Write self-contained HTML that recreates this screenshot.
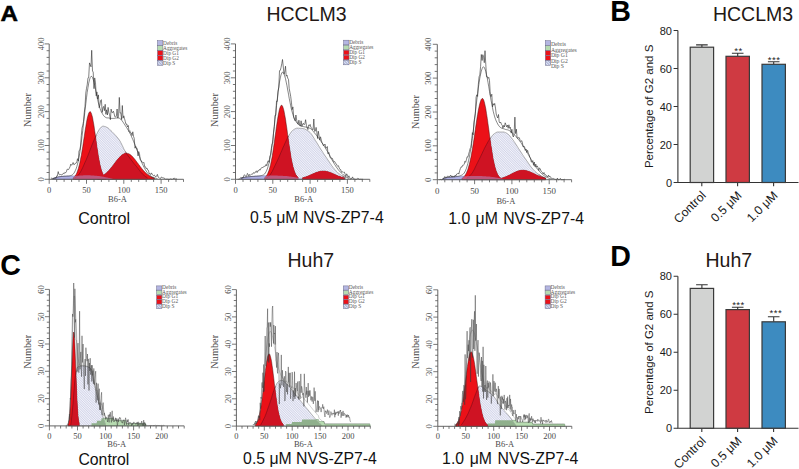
<!DOCTYPE html>
<html><head><meta charset="utf-8"><style>
html,body{margin:0;padding:0;background:#fff;}
body{width:799px;height:469px;overflow:hidden;position:relative;}
svg{position:absolute;left:0;top:0;}
.tk{font-family:"Liberation Serif",serif;font-size:8.5px;fill:#4a4a4a;}
.nm{font-family:"Liberation Serif",serif;font-size:10.3px;fill:#4a4a4a;}
.lg{font-family:"Liberation Serif",serif;font-size:5.3px;fill:#555;}
.bt{font-family:"Liberation Sans",sans-serif;font-size:11px;fill:#1a1a1a;}
.bl{font-family:"Liberation Sans",sans-serif;font-size:12.2px;fill:#1a1a1a;}
.yl{font-family:"Liberation Sans",sans-serif;font-size:11.5px;fill:#1a1a1a;}
.st{font-family:"Liberation Sans",sans-serif;font-size:9.6px;letter-spacing:0.5px;fill:#1a1a1a;}
.ti{font-family:"Liberation Sans",sans-serif;font-size:19.5px;fill:#231815;}
.cl{font-family:"Liberation Sans",sans-serif;font-size:15.8px;fill:#111;}
.pl{font-family:"Liberation Sans",sans-serif;font-size:29.8px;font-weight:bold;fill:#000;}
</style></head><body>
<svg width="799" height="469" viewBox="0 0 799 469">
<defs>
<pattern id="hatch" patternUnits="userSpaceOnUse" width="1.7" height="1.7" patternTransform="rotate(-45)">
<rect width="1.7" height="1.7" fill="#f6f7fc"/><line x1="0" y1="0" x2="1.7" y2="0" stroke="#dcdff0" stroke-width="0.5"/><line x1="0" y1="0" x2="0" y2="1.7" stroke="#9ca2cc" stroke-width="0.65"/></pattern>
<pattern id="hatchL" patternUnits="userSpaceOnUse" width="2" height="2" patternTransform="rotate(-45)">
<rect width="2" height="2" fill="#e0e4f4"/><line x1="0" y1="0" x2="0" y2="2" stroke="#4a5aa0" stroke-width="0.8"/></pattern>
</defs>
<path d="M52.9 178.6 L53.7 178.2 L54.4 177.9 L55.2 177.7 L55.9 177.5 L56.7 177.3 L57.4 177.1 L58.2 176.9 L58.9 176.8 L59.6 176.7 L60.4 176.6 L61.1 176.5 L61.9 176.4 L62.6 176.4 L63.4 176.3 L64.1 176.3 L64.9 176.2 L65.6 176.2 L66.4 176.2 L67.1 176.1 L67.8 176.1 L68.6 176.1 L69.3 176.1 L70.1 176.1 L70.8 176 L71.6 176 L72.3 176 L73.1 176 L73.8 176 L74.6 175.9 L75.3 175.9 L76.1 175.9 L76.8 175.8 L77.5 175.8 L78.3 175.7 L79 175.7 L79.8 175.6 L80.5 175.6 L81.3 175.5 L82 175.4 L82.8 175.4 L83.5 175.3 L84.3 175.3 L85 175.3 L85.8 175.2 L86.5 175.2 L87.2 175.2 L88 175.3 L88.7 175.3 L89.5 175.3 L90.2 175.3 L91 175.4 L91.7 175.4 L92.5 175.5 L93.2 175.5 L94 175.6 L94.7 175.7 L95.5 175.7 L96.2 175.8 L96.9 175.8 L97.7 175.9 L98.4 176 L99.2 176.1 L99.9 176.2 L100.7 176.3 L101.4 176.4 L102.2 176.6 L102.9 176.7 L103.7 176.8 L104.4 177 L105.2 177.2 L105.9 177.3 L106.6 177.5 L107.4 177.6 L108.1 177.8 L108.9 177.9 L109.6 178.1 L110.4 178.2 L111.1 178.4 L111.9 178.6 L112.6 178.8 L112.6 179.3 L111.9 179.3 L111.1 179.3 L110.4 179.3 L109.6 179.3 L108.9 179.3 L108.1 179.3 L107.4 179.3 L106.6 179.3 L105.9 179.3 L105.2 179.3 L104.4 179.3 L103.7 179.3 L102.9 179.3 L102.2 179.3 L101.4 179.3 L100.7 179.3 L99.9 179.3 L99.2 179.3 L98.4 179.3 L97.7 179.3 L96.9 179.3 L96.2 179.3 L95.5 179.3 L94.7 179.3 L94 179.3 L93.2 179.3 L92.5 179.3 L91.7 179.3 L91 179.3 L90.2 179.3 L89.5 179.3 L88.7 179.3 L88 179.3 L87.2 179.3 L86.5 179.3 L85.8 179.3 L85 179.3 L84.3 179.3 L83.5 179.3 L82.8 179.3 L82 179.3 L81.3 179.3 L80.5 179.3 L79.8 179.3 L79 179.3 L78.3 179.3 L77.5 179.3 L76.8 179.3 L76.1 179.3 L75.3 179.3 L74.6 179.3 L73.8 179.3 L73.1 179.3 L72.3 179.3 L71.6 179.3 L70.8 179.3 L70.1 179.3 L69.3 179.3 L68.6 179.3 L67.8 179.3 L67.1 179.3 L66.4 179.3 L65.6 179.3 L64.9 179.3 L64.1 179.3 L63.4 179.3 L62.6 179.3 L61.9 179.3 L61.1 179.3 L60.4 179.3 L59.6 179.3 L58.9 179.3 L58.2 179.3 L57.4 179.3 L56.7 179.3 L55.9 179.3 L55.2 179.3 L54.4 179.3 L53.7 179.3 L52.9 179.3Z" fill="#b4b6e2" stroke="#5a5a9a" stroke-width="0.4"/>
<path d="M75.3 177.7 L76.1 177.1 L76.8 176.5 L77.5 175.9 L78.3 175.2 L79 174.2 L79.8 173.1 L80.5 171.9 L81.3 170.5 L82 169 L82.8 167.4 L83.5 165.7 L84.3 164 L85 162.3 L85.8 160.7 L86.5 159 L87.2 157.3 L88 155.4 L88.7 153.5 L89.5 151.5 L90.2 149.5 L91 147.5 L91.7 145.6 L92.5 143.8 L93.2 142 L94 140.2 L94.7 138.5 L95.5 136.9 L96.2 135.3 L96.9 133.8 L97.7 132.2 L98.4 130.8 L99.2 129.5 L99.9 128.5 L100.7 127.7 L101.4 126.9 L102.2 126.4 L102.9 126.2 L103.7 126.2 L104.4 126.4 L105.2 126.6 L105.9 126.9 L106.6 127.2 L107.4 127.5 L108.1 128 L108.9 128.6 L109.6 129.3 L110.4 130.1 L111.1 130.9 L111.9 131.6 L112.6 132.3 L113.4 133.1 L114.1 133.8 L114.8 134.6 L115.6 135.4 L116.3 136.2 L117.1 137.1 L117.8 138 L118.6 139 L119.3 140 L120.1 141.2 L120.8 142.6 L121.6 144.1 L122.3 145.6 L123.1 147.2 L123.8 148.8 L124.5 150.2 L125.3 151.5 L126 152.7 L126.8 153.9 L127.5 155 L128.3 156 L129 157 L129.8 158 L130.5 159 L131.3 160 L132 161 L132.8 161.9 L133.5 162.9 L134.2 163.8 L135 164.7 L135.7 165.6 L136.5 166.5 L137.2 167.4 L138 168.4 L138.7 169.4 L139.5 170.4 L140.2 171.4 L141 172.3 L141.7 173.1 L142.4 173.9 L143.2 174.6 L143.9 175.2 L144.7 175.9 L145.4 176.5 L146.2 177 L146.9 177.5 L146.9 179.3 L146.2 179.3 L145.4 179.3 L144.7 179.3 L143.9 179.3 L143.2 179.3 L142.4 179.3 L141.7 179.3 L141 179.3 L140.2 179.3 L139.5 179.3 L138.7 179.3 L138 179.3 L137.2 179.3 L136.5 179.3 L135.7 179.3 L135 179.3 L134.2 179.3 L133.5 179.3 L132.8 179.3 L132 179.3 L131.3 179.3 L130.5 179.3 L129.8 179.3 L129 179.3 L128.3 179.3 L127.5 179.3 L126.8 179.3 L126 179.3 L125.3 179.3 L124.5 179.3 L123.8 179.3 L123.1 179.3 L122.3 179.3 L121.6 179.3 L120.8 179.3 L120.1 179.3 L119.3 179.3 L118.6 179.3 L117.8 179.3 L117.1 179.3 L116.3 179.3 L115.6 179.3 L114.8 179.3 L114.1 179.3 L113.4 179.3 L112.6 179.3 L111.9 179.3 L111.1 179.3 L110.4 179.3 L109.6 179.3 L108.9 179.3 L108.1 179.3 L107.4 179.3 L106.6 179.3 L105.9 179.3 L105.2 179.3 L104.4 179.3 L103.7 179.3 L102.9 179.3 L102.2 179.3 L101.4 179.3 L100.7 179.3 L99.9 179.3 L99.2 179.3 L98.4 179.3 L97.7 179.3 L96.9 179.3 L96.2 179.3 L95.5 179.3 L94.7 179.3 L94 179.3 L93.2 179.3 L92.5 179.3 L91.7 179.3 L91 179.3 L90.2 179.3 L89.5 179.3 L88.7 179.3 L88 179.3 L87.2 179.3 L86.5 179.3 L85.8 179.3 L85 179.3 L84.3 179.3 L83.5 179.3 L82.8 179.3 L82 179.3 L81.3 179.3 L80.5 179.3 L79.8 179.3 L79 179.3 L78.3 179.3 L77.5 179.3 L76.8 179.3 L76.1 179.3 L75.3 179.3Z" fill="url(#hatch)" stroke="#666" stroke-width="0.5"/>
<path d="M73.1 177.9 L73.8 177.3 L74.6 176.6 L75.3 175.6 L76.1 174.4 L76.8 172.9 L77.5 171 L78.3 168.7 L79 166 L79.8 162.9 L80.5 159.3 L81.3 155.3 L82 150.9 L82.8 146.2 L83.5 141.2 L84.3 136.2 L85 131.3 L85.8 126.6 L86.5 122.3 L87.2 118.5 L88 115.4 L88.7 113.2 L89.5 111.9 L90.2 111.6 L91 112.4 L91.7 114.4 L92.5 117.3 L93.2 121.2 L94 125.7 L94.7 130.8 L95.5 136.1 L96.2 141.5 L96.9 146.8 L97.7 151.8 L98.4 156.4 L99.2 160.6 L99.9 164.3 L100.7 167.5 L101.4 170.1 L102.2 172.3 L102.9 174.1 L103.7 175.5 L104.4 176.5 L105.2 177.3 L105.9 177.9 L105.9 179.3 L105.2 179.3 L104.4 179.3 L103.7 179.3 L102.9 179.3 L102.2 179.3 L101.4 179.3 L100.7 179.3 L99.9 179.3 L99.2 179.3 L98.4 179.3 L97.7 179.3 L96.9 179.3 L96.2 179.3 L95.5 179.3 L94.7 179.3 L94 179.3 L93.2 179.3 L92.5 179.3 L91.7 179.3 L91 179.3 L90.2 179.3 L89.5 179.3 L88.7 179.3 L88 179.3 L87.2 179.3 L86.5 179.3 L85.8 179.3 L85 179.3 L84.3 179.3 L83.5 179.3 L82.8 179.3 L82 179.3 L81.3 179.3 L80.5 179.3 L79.8 179.3 L79 179.3 L78.3 179.3 L77.5 179.3 L76.8 179.3 L76.1 179.3 L75.3 179.3 L74.6 179.3 L73.8 179.3 L73.1 179.3Z" fill="#ec1118" stroke="#3a0a0a" stroke-width="0.45"/>
<path d="M97.7 177.9 L98.4 177.6 L99.2 177.4 L99.9 177.1 L100.7 176.8 L101.4 176.4 L102.2 176 L102.9 175.5 L103.7 175.1 L104.4 174.5 L105.2 174 L105.9 173.3 L106.6 172.7 L107.4 172 L108.1 171.2 L108.9 170.4 L109.6 169.6 L110.4 168.7 L111.1 167.8 L111.9 166.9 L112.6 165.9 L113.4 165 L114.1 164 L114.8 163 L115.6 162 L116.3 161 L117.1 160.1 L117.8 159.2 L118.6 158.3 L119.3 157.4 L120.1 156.7 L120.8 155.9 L121.6 155.3 L122.3 154.7 L123.1 154.2 L123.8 153.9 L124.5 153.6 L125.3 153.3 L126 153.2 L126.8 153.2 L127.5 153.4 L128.3 153.6 L129 153.9 L129.8 154.3 L130.5 154.8 L131.3 155.4 L132 156.1 L132.8 156.9 L133.5 157.7 L134.2 158.6 L135 159.5 L135.7 160.5 L136.5 161.5 L137.2 162.5 L138 163.5 L138.7 164.5 L139.5 165.5 L140.2 166.5 L141 167.5 L141.7 168.4 L142.4 169.3 L143.2 170.2 L143.9 171 L144.7 171.8 L145.4 172.6 L146.2 173.3 L146.9 173.9 L147.7 174.5 L148.4 175 L149.2 175.5 L149.9 176 L150.7 176.4 L151.4 176.8 L152.1 177.1 L152.9 177.4 L153.6 177.7 L154.4 177.9 L154.4 179.3 L153.6 179.3 L152.9 179.3 L152.1 179.3 L151.4 179.3 L150.7 179.3 L149.9 179.3 L149.2 179.3 L148.4 179.3 L147.7 179.3 L146.9 179.3 L146.2 179.3 L145.4 179.3 L144.7 179.3 L143.9 179.3 L143.2 179.3 L142.4 179.3 L141.7 179.3 L141 179.3 L140.2 179.3 L139.5 179.3 L138.7 179.3 L138 179.3 L137.2 179.3 L136.5 179.3 L135.7 179.3 L135 179.3 L134.2 179.3 L133.5 179.3 L132.8 179.3 L132 179.3 L131.3 179.3 L130.5 179.3 L129.8 179.3 L129 179.3 L128.3 179.3 L127.5 179.3 L126.8 179.3 L126 179.3 L125.3 179.3 L124.5 179.3 L123.8 179.3 L123.1 179.3 L122.3 179.3 L121.6 179.3 L120.8 179.3 L120.1 179.3 L119.3 179.3 L118.6 179.3 L117.8 179.3 L117.1 179.3 L116.3 179.3 L115.6 179.3 L114.8 179.3 L114.1 179.3 L113.4 179.3 L112.6 179.3 L111.9 179.3 L111.1 179.3 L110.4 179.3 L109.6 179.3 L108.9 179.3 L108.1 179.3 L107.4 179.3 L106.6 179.3 L105.9 179.3 L105.2 179.3 L104.4 179.3 L103.7 179.3 L102.9 179.3 L102.2 179.3 L101.4 179.3 L100.7 179.3 L99.9 179.3 L99.2 179.3 L98.4 179.3 L97.7 179.3Z" fill="#ec1118" stroke="#3a0a0a" stroke-width="0.45"/>
<path d="M75.3 177.7 L76.1 177.1 L76.8 176.5 L77.5 175.9 L78.3 175.2 L79 174.2 L79.8 173.1 L80.5 171.9 L81.3 170.5 L82 169 L82.8 167.4 L83.5 165.7 L84.3 164 L85 162.3 L85.8 160.7 L86.5 159 L87.2 157.3 L88 155.4 L88.7 153.5 L89.5 151.5 L90.2 149.5 L91 147.5 L91.7 145.6 L92.5 143.8 L93.2 142 L94 140.2 L94.7 138.5 L95.5 136.9 L96.2 141.5 L96.9 146.8 L97.7 151.8 L98.4 156.4 L99.2 160.6 L99.9 164.3 L100.7 167.5 L101.4 170.1 L102.2 172.3 L102.9 174.1 L103.7 175.1 L104.4 174.5 L105.2 174 L105.9 173.3 L106.6 172.7 L107.4 172 L108.1 171.2 L108.9 170.4 L109.6 169.6 L110.4 168.7 L111.1 167.8 L111.9 166.9 L112.6 165.9 L113.4 165 L114.1 164 L114.8 163 L115.6 162 L116.3 161 L117.1 160.1 L117.8 159.2 L118.6 158.3 L119.3 157.4 L120.1 156.7 L120.8 155.9 L121.6 155.3 L122.3 154.7 L123.1 154.2 L123.8 153.9 L124.5 153.6 L125.3 153.3 L126 153.2 L126.8 153.9 L127.5 155 L128.3 156 L129 157 L129.8 158 L130.5 159 L131.3 160 L132 161 L132.8 161.9 L133.5 162.9 L134.2 163.8 L135 164.7 L135.7 165.6 L136.5 166.5 L137.2 167.4 L138 168.4 L138.7 169.4 L139.5 170.4 L140.2 171.4 L141 172.3 L141.7 173.1 L142.4 173.9 L143.2 174.6 L143.9 175.2 L144.7 175.9 L145.4 176.5 L146.2 177 L146.9 177.5 L146.9 179.3 L146.2 179.3 L145.4 179.3 L144.7 179.3 L143.9 179.3 L143.2 179.3 L142.4 179.3 L141.7 179.3 L141 179.3 L140.2 179.3 L139.5 179.3 L138.7 179.3 L138 179.3 L137.2 179.3 L136.5 179.3 L135.7 179.3 L135 179.3 L134.2 179.3 L133.5 179.3 L132.8 179.3 L132 179.3 L131.3 179.3 L130.5 179.3 L129.8 179.3 L129 179.3 L128.3 179.3 L127.5 179.3 L126.8 179.3 L126 179.3 L125.3 179.3 L124.5 179.3 L123.8 179.3 L123.1 179.3 L122.3 179.3 L121.6 179.3 L120.8 179.3 L120.1 179.3 L119.3 179.3 L118.6 179.3 L117.8 179.3 L117.1 179.3 L116.3 179.3 L115.6 179.3 L114.8 179.3 L114.1 179.3 L113.4 179.3 L112.6 179.3 L111.9 179.3 L111.1 179.3 L110.4 179.3 L109.6 179.3 L108.9 179.3 L108.1 179.3 L107.4 179.3 L106.6 179.3 L105.9 179.3 L105.2 179.3 L104.4 179.3 L103.7 179.3 L102.9 179.3 L102.2 179.3 L101.4 179.3 L100.7 179.3 L99.9 179.3 L99.2 179.3 L98.4 179.3 L97.7 179.3 L96.9 179.3 L96.2 179.3 L95.5 179.3 L94.7 179.3 L94 179.3 L93.2 179.3 L92.5 179.3 L91.7 179.3 L91 179.3 L90.2 179.3 L89.5 179.3 L88.7 179.3 L88 179.3 L87.2 179.3 L86.5 179.3 L85.8 179.3 L85 179.3 L84.3 179.3 L83.5 179.3 L82.8 179.3 L82 179.3 L81.3 179.3 L80.5 179.3 L79.8 179.3 L79 179.3 L78.3 179.3 L77.5 179.3 L76.8 179.3 L76.1 179.3 L75.3 179.3Z" fill="#cf1323" stroke="none"/>
<path d="M74.6 178.2 L75.3 177.7 L76.1 177.1 L76.8 176.5 L77.5 175.9 L78.3 175.2 L79 174.2 L79.8 173.1 L80.5 171.9 L81.3 170.5 L82 169 L82.8 167.4 L83.5 165.7 L84.3 164 L85 162.3 L85.8 160.7 L86.5 159 L87.2 157.3 L88 155.4 L88.7 153.5 L89.5 151.5 L90.2 149.5 L91 147.5 L91.7 145.6 L92.5 143.8 L93.2 142 L94 140.2 L94.7 138.5 L95.5 136.9 L96.2 135.3" fill="none" stroke="#5a0a14" stroke-width="0.45"/>
<path d="M125.3 151.5 L126 152.7 L126.8 153.9 L127.5 155 L128.3 156 L129 157 L129.8 158 L130.5 159 L131.3 160 L132 161 L132.8 161.9 L133.5 162.9 L134.2 163.8 L135 164.7 L135.7 165.6 L136.5 166.5 L137.2 167.4 L138 168.4 L138.7 169.4 L139.5 170.4 L140.2 171.4 L141 172.3 L141.7 173.1 L142.4 173.9 L143.2 174.6 L143.9 175.2 L144.7 175.9 L145.4 176.5 L146.2 177 L146.9 177.5 L147.7 178" fill="none" stroke="#5a0a14" stroke-width="0.45"/>
<path d="M52.9 178.6 L53.7 178.2 L54.4 177.9 L55.2 177.7 L55.9 177.5 L56.7 177.3 L57.4 177.1 L58.2 176.9 L58.9 176.8 L59.6 176.7 L60.4 176.6 L61.1 176.5 L61.9 176.4 L62.6 176.4 L63.4 176.3 L64.1 176.3 L64.9 176.2 L65.6 176.2 L66.4 176.2 L67.1 176.1 L67.8 176.1 L68.6 176.1 L69.3 176.1 L70.1 176.1 L70.8 176 L71.6 176 L72.3 176 L73.1 176 L73.8 176 L74.6 175.9 L75.3 175.9 L76.1 175.9 L76.8 175.8 L77.5 175.8 L78.3 175.7 L79 175.7 L79.8 175.6 L80.5 175.6 L81.3 175.5 L82 175.4 L82.8 175.4 L83.5 175.3 L84.3 175.3 L85 175.3 L85.8 175.2 L86.5 175.2 L87.2 175.2 L88 175.3 L88.7 175.3 L89.5 175.3 L90.2 175.3 L91 175.4 L91.7 175.4 L92.5 175.5 L93.2 175.5 L94 175.6 L94.7 175.7 L95.5 175.7 L96.2 175.8 L96.9 175.8 L97.7 175.9 L98.4 176 L99.2 176.1 L99.9 176.2 L100.7 176.3 L101.4 176.4 L102.2 176.6 L102.9 176.7 L103.7 176.8 L104.4 177 L105.2 177.2 L105.9 177.3 L106.6 177.5 L107.4 177.6 L108.1 177.8 L108.9 177.9 L109.6 178.1 L110.4 178.2 L111.1 178.4 L111.9 178.6 L112.6 178.8 L112.6 179.3 L111.9 179.3 L111.1 179.3 L110.4 179.3 L109.6 179.3 L108.9 179.3 L108.1 179.3 L107.4 179.3 L106.6 179.3 L105.9 179.3 L105.2 179.3 L104.4 179.3 L103.7 179.3 L102.9 179.3 L102.2 179.3 L101.4 179.3 L100.7 179.3 L99.9 179.3 L99.2 179.3 L98.4 179.3 L97.7 179.3 L96.9 179.3 L96.2 179.3 L95.5 179.3 L94.7 179.3 L94 179.3 L93.2 179.3 L92.5 179.3 L91.7 179.3 L91 179.3 L90.2 179.3 L89.5 179.3 L88.7 179.3 L88 179.3 L87.2 179.3 L86.5 179.3 L85.8 179.3 L85 179.3 L84.3 179.3 L83.5 179.3 L82.8 179.3 L82 179.3 L81.3 179.3 L80.5 179.3 L79.8 179.3 L79 179.3 L78.3 179.3 L77.5 179.3 L76.8 179.3 L76.1 179.3 L75.3 179.3 L74.6 179.3 L73.8 179.3 L73.1 179.3 L72.3 179.3 L71.6 179.3 L70.8 179.3 L70.1 179.3 L69.3 179.3 L68.6 179.3 L67.8 179.3 L67.1 179.3 L66.4 179.3 L65.6 179.3 L64.9 179.3 L64.1 179.3 L63.4 179.3 L62.6 179.3 L61.9 179.3 L61.1 179.3 L60.4 179.3 L59.6 179.3 L58.9 179.3 L58.2 179.3 L57.4 179.3 L56.7 179.3 L55.9 179.3 L55.2 179.3 L54.4 179.3 L53.7 179.3 L52.9 179.3Z" fill="#a8a8e8" fill-opacity="0.45" stroke="none"/>
<path d="M52.9 178.6 L53.7 178.2 L54.4 177.9 L55.2 177.7 L55.9 177.5 L56.7 177.3 L57.4 177.1 L58.2 176.9 L58.9 176.8 L59.6 176.7 L60.4 176.6 L61.1 176.5 L61.9 176.4 L62.6 176.4 L63.4 176.3 L64.1 176.2 L64.9 176.2 L65.6 176.2 L66.4 176.1 L67.1 176.1 L67.8 176 L68.6 176 L69.3 175.9 L70.1 175.7 L70.8 175.6 L71.6 175.3 L72.3 174.9 L73.1 174.2 L73.8 173.3 L74.6 172.1 L75.3 170.6 L76.1 168.8 L76.8 166.7 L77.5 164.1 L78.3 161 L79 157.3 L79.8 153 L80.5 148.1 L81.3 142.6 L82 136.6 L82.8 130.3 L83.5 123.7 L84.3 116.9 L85 110.2 L85.8 103.8 L86.5 97.8 L87.2 92.3 L88 87.4 L88.7 83.2 L89.5 79.9 L90.2 77.6 L91 76.4 L91.7 76.4 L92.5 77.5 L93.2 79.5 L94 82.3 L94.7 85.5 L95.5 89.1 L96.2 92.9 L96.9 96.5 L97.7 99.9 L98.4 102.9 L99.2 105.7 L99.9 108.2 L100.7 110.3 L101.4 112 L102.2 113.3 L102.9 114.6 L103.7 115.7 L104.4 116.5 L105.2 117.1 L105.9 117.5 L106.6 117.8 L107.4 117.9 L108.1 117.9 L108.9 118 L109.6 118.2 L110.4 118.3 L111.1 118.4 L111.9 118.4 L112.6 118.4 L113.4 118.4 L114.1 118.3 L114.8 118.3 L115.6 118.1 L116.3 118 L117.1 117.9 L117.8 117.9 L118.6 118 L119.3 118.2 L120.1 118.6 L120.8 119.2 L121.6 120.1 L122.3 121.1 L123.1 122.2 L123.8 123.3 L124.5 124.5 L125.3 125.6 L126 126.7 L126.8 127.8 L127.5 129 L128.3 130.3 L129 131.6 L129.8 133 L130.5 134.5 L131.3 136.1 L132 137.8 L132.8 139.5 L133.5 141.3 L134.2 143 L135 144.9 L135.7 146.8 L136.5 148.7 L137.2 150.6 L138 152.6 L138.7 154.6 L139.5 156.6 L140.2 158.6 L141 160.5 L141.7 162.3 L142.4 163.9 L143.2 165.5 L143.9 167 L144.7 168.4 L145.4 169.8 L146.2 171 L146.9 172.1 L147.7 173.1 L148.4 174 L149.2 174.8 L149.9 175.5 L150.7 176.1 L151.4 176.7 L152.1 177.1 L152.9 177.4 L153.6 177.7 L154.4 177.9 L155.1 178.1 L155.9 178.3 L156.6 178.4 L157.4 178.6" fill="none" stroke="#222" stroke-width="0.55"/>
<path d="M51.4 177.6 L52.2 179.3 L52.9 178.2 L53.7 178.7 L54.4 178.4 L55.2 177.9 L55.9 178.5 L56.7 175.9 L57.4 175.9 L58.2 171.6 L58.9 174.3 L59.6 174.7 L60.4 174.5 L61.1 174.7 L61.9 175 L62.6 174.2 L63.4 173.2 L64.1 173.8 L64.9 172.3 L65.6 172.8 L66.4 171.7 L67.1 169.3 L67.8 169.3 L68.6 169.5 L69.3 168.3 L70.1 166.6 L70.8 164.1 L71.6 165.3 L72.3 164.4 L73.1 162.5 L73.8 164.6 L74.6 164.4 L75.3 163.3 L76.1 163.2 L76.8 162.1 L77.5 158.7 L78.3 161 L79 150.9 L79.8 150 L80.5 146 L81.3 135.6 L82 128.1 L82.8 125.2 L83.5 121.5 L84.3 112.3 L85 106.4 L85.8 93.1 L86.5 88.3 L87.2 84.9 L88 77.8 L88.7 77.5 L89.5 62.9 L90.2 64.5 L91 66.8 L91.7 50.3 L92.5 71 L93.2 72.1 L94 88.7 L94.7 77.9 L95.5 82.9 L96.2 95.8 L96.9 91.9 L97.7 99 L98.4 94.9 L99.2 107.7 L99.9 105 L100.7 100.3 L101.4 99.7 L102.2 112.4 L102.9 107.9 L103.7 106.4 L104.4 110.7 L105.2 104.3 L105.9 114.3 L106.6 109.8 L107.4 115 L108.1 107.4 L108.9 112.8 L109.6 114.7 L110.4 119.7 L111.1 109.1 L111.9 112.5 L112.6 112.6 L113.4 111.2 L114.1 113.6 L114.8 116.7 L115.6 116.8 L116.3 116.4 L117.1 109 L117.8 118.1 L118.6 115.3 L119.3 97.4 L120.1 113.1 L120.8 112.8 L121.6 119.6 L122.3 105.5 L123.1 118.2 L123.8 115.8 L124.5 118.6 L125.3 121.6 L126 124.4 L126.8 124 L127.5 127 L128.3 125.5 L129 131.6 L129.8 130.7 L130.5 133 L131.3 133 L132 135.6 L132.8 131.8 L133.5 136.3 L134.2 138.3 L135 148.2 L135.7 146.3 L136.5 148.8 L137.2 148.5 L138 155.9 L138.7 151.5 L139.5 153.7 L140.2 159.6 L141 160.7 L141.7 162 L142.4 162.2 L143.2 162.8 L143.9 162.3 L144.7 166.6 L145.4 166.7 L146.2 168.7 L146.9 168 L147.7 170.1 L148.4 170.3 L149.2 173.6 L149.9 173.4 L150.7 174.6 L151.4 172.9 L152.1 174.1 L152.9 175.3 L153.6 175.7 L154.4 175.1 L155.1 176.4 L155.9 176.9 L156.6 175.9 L157.4 174.4 L158.1 177 L158.9 177.5 L159.6 178.3 L160.4 178.6 L161.1 177.2 L161.8 177.1 L162.6 178 L163.3 177.9 L164.1 178.2 L164.8 178.4 L165.6 179.3 L166.3 179.2 L167.1 178.9 L167.8 179.3 L168.6 179.3 L169.3 179.3 L170.1 179.3 L170.8 178.6 L171.5 179.3 L172.3 179.3 L173 178.6 L173.8 178.7 L174.5 177.9 L175.3 179.3 L176 178.6 L176.8 179.3" fill="none" stroke="#2a2a2a" stroke-width="0.6" stroke-linejoin="bevel"/>
<path d="M49.2 179.3 H183.5 M49.2 179.3 V43.9" stroke="#555" stroke-width="0.9" fill="none"/>
<path d="M49.2 179.3 v4.5 M56.7 179.3 v2.6 M64.1 179.3 v2.6 M71.6 179.3 v2.6 M79 179.3 v2.6 M86.5 179.3 v4.5 M94 179.3 v2.6 M101.4 179.3 v2.6 M108.9 179.3 v2.6 M116.3 179.3 v2.6 M123.8 179.3 v4.5 M131.3 179.3 v2.6 M138.7 179.3 v2.6 M146.2 179.3 v2.6 M153.6 179.3 v2.6 M161.1 179.3 v4.5 M168.6 179.3 v2.6 M176 179.3 v2.6 M183.5 179.3 v2.6 M49.2 179.3 h-4.5 M49.2 172.5 h-2.6 M49.2 165.8 h-2.6 M49.2 159 h-2.6 M49.2 152.2 h-2.6 M49.2 145.5 h-4.5 M49.2 138.7 h-2.6 M49.2 131.9 h-2.6 M49.2 125.1 h-2.6 M49.2 118.4 h-2.6 M49.2 111.6 h-4.5 M49.2 104.8 h-2.6 M49.2 98.1 h-2.6 M49.2 91.3 h-2.6 M49.2 84.5 h-2.6 M49.2 77.8 h-4.5 M49.2 71 h-2.6 M49.2 64.2 h-2.6 M49.2 57.4 h-2.6 M49.2 50.7 h-2.6 M49.2 43.9 h-4.5" stroke="#555" stroke-width="0.8" fill="none"/>
<text x="49.2" y="192.6" text-anchor="middle" class="tk" style="font-size:8.5px">0</text>
<text x="86.5" y="192.6" text-anchor="middle" class="tk" style="font-size:8.5px">50</text>
<text x="123.8" y="192.6" text-anchor="middle" class="tk" style="font-size:8.5px">100</text>
<text x="161.1" y="192.6" text-anchor="middle" class="tk" style="font-size:8.5px">150</text>
<text transform="translate(43.8 179.3) rotate(-90)" text-anchor="middle" class="tk" style="font-size:8.5px">0</text>
<text transform="translate(43.8 145.5) rotate(-90)" text-anchor="middle" class="tk" style="font-size:8.5px">100</text>
<text transform="translate(43.8 111.6) rotate(-90)" text-anchor="middle" class="tk" style="font-size:8.5px">200</text>
<text transform="translate(43.8 77.8) rotate(-90)" text-anchor="middle" class="tk" style="font-size:8.5px">300</text>
<text transform="translate(43.8 43.9) rotate(-90)" text-anchor="middle" class="tk" style="font-size:8.5px">400</text>
<text x="117.5" y="202.3" text-anchor="middle" class="tk">B6-A</text>
<text transform="translate(31.2 110) rotate(-90)" text-anchor="middle" class="nm">Number</text>
<rect x="157.5" y="40.7" width="5.4" height="4.6" fill="#b4b6e2" stroke="#6a6a8a" stroke-width="0.5"/>
<text x="163.1" y="44.7" class="lg" style="font-size:5.3px">Debris</text>
<rect x="157.5" y="45.7" width="5.4" height="4.6" fill="#b6dbb0" stroke="#6a6a8a" stroke-width="0.5"/>
<text x="163.1" y="49.7" class="lg" style="font-size:5.3px">Aggregates</text>
<rect x="157.5" y="50.7" width="5.4" height="4.6" fill="#ec1118" stroke="#6a6a8a" stroke-width="0.5"/>
<text x="163.1" y="54.7" class="lg" style="font-size:5.3px">Dip G1</text>
<rect x="157.5" y="55.7" width="5.4" height="4.6" fill="#ec1118" stroke="#6a6a8a" stroke-width="0.5"/>
<text x="163.1" y="59.7" class="lg" style="font-size:5.3px">Dip G2</text>
<rect x="157.5" y="60.7" width="5.4" height="4.6" fill="url(#hatchL)" stroke="#6a6a8a" stroke-width="0.5"/>
<text x="163.1" y="64.7" class="lg" style="font-size:5.3px">Dip S</text>
<path d="M240.7 178.5 L241.5 178.1 L242.2 177.8 L243 177.6 L243.7 177.5 L244.5 177.3 L245.2 177.2 L245.9 177.1 L246.7 177 L247.4 176.9 L248.2 176.8 L248.9 176.7 L249.7 176.7 L250.4 176.6 L251.2 176.5 L251.9 176.5 L252.7 176.4 L253.4 176.4 L254.2 176.3 L254.9 176.3 L255.6 176.2 L256.4 176.2 L257.1 176.1 L257.9 176.1 L258.6 176 L259.4 176 L260.1 176 L260.9 175.9 L261.6 175.9 L262.4 175.9 L263.1 175.9 L263.8 175.8 L264.6 175.8 L265.3 175.8 L266.1 175.7 L266.8 175.7 L267.6 175.7 L268.3 175.7 L269.1 175.6 L269.8 175.6 L270.6 175.6 L271.3 175.6 L272.1 175.6 L272.8 175.6 L273.5 175.6 L274.3 175.6 L275 175.6 L275.8 175.6 L276.5 175.6 L277.3 175.6 L278 175.7 L278.8 175.7 L279.5 175.7 L280.3 175.7 L281 175.8 L281.8 175.8 L282.5 175.8 L283.2 175.9 L284 175.9 L284.7 176 L285.5 176 L286.2 176.1 L287 176.1 L287.7 176.2 L288.5 176.3 L289.2 176.4 L290 176.5 L290.7 176.6 L291.4 176.7 L292.2 176.8 L292.9 176.9 L293.7 177 L294.4 177.2 L295.2 177.3 L295.9 177.4 L296.7 177.5 L297.4 177.7 L298.2 177.8 L298.9 178 L299.7 178.2 L300.4 178.3 L301.1 178.5 L301.9 178.7 L301.9 179.3 L301.1 179.3 L300.4 179.3 L299.7 179.3 L298.9 179.3 L298.2 179.3 L297.4 179.3 L296.7 179.3 L295.9 179.3 L295.2 179.3 L294.4 179.3 L293.7 179.3 L292.9 179.3 L292.2 179.3 L291.4 179.3 L290.7 179.3 L290 179.3 L289.2 179.3 L288.5 179.3 L287.7 179.3 L287 179.3 L286.2 179.3 L285.5 179.3 L284.7 179.3 L284 179.3 L283.2 179.3 L282.5 179.3 L281.8 179.3 L281 179.3 L280.3 179.3 L279.5 179.3 L278.8 179.3 L278 179.3 L277.3 179.3 L276.5 179.3 L275.8 179.3 L275 179.3 L274.3 179.3 L273.5 179.3 L272.8 179.3 L272.1 179.3 L271.3 179.3 L270.6 179.3 L269.8 179.3 L269.1 179.3 L268.3 179.3 L267.6 179.3 L266.8 179.3 L266.1 179.3 L265.3 179.3 L264.6 179.3 L263.8 179.3 L263.1 179.3 L262.4 179.3 L261.6 179.3 L260.9 179.3 L260.1 179.3 L259.4 179.3 L258.6 179.3 L257.9 179.3 L257.1 179.3 L256.4 179.3 L255.6 179.3 L254.9 179.3 L254.2 179.3 L253.4 179.3 L252.7 179.3 L251.9 179.3 L251.2 179.3 L250.4 179.3 L249.7 179.3 L248.9 179.3 L248.2 179.3 L247.4 179.3 L246.7 179.3 L245.9 179.3 L245.2 179.3 L244.5 179.3 L243.7 179.3 L243 179.3 L242.2 179.3 L241.5 179.3 L240.7 179.3Z" fill="#b4b6e2" stroke="#5a5a9a" stroke-width="0.4"/>
<path d="M266.8 177.8 L267.6 177.2 L268.3 176.6 L269.1 175.9 L269.8 175.1 L270.6 174.1 L271.3 172.9 L272.1 171.6 L272.8 170.2 L273.5 168.6 L274.3 167.1 L275 165.5 L275.8 163.9 L276.5 162.4 L277.3 160.8 L278 159.2 L278.8 157.5 L279.5 155.8 L280.3 154 L281 152.3 L281.8 150.5 L282.5 148.8 L283.2 147.1 L284 145.5 L284.7 143.8 L285.5 142.2 L286.2 140.6 L287 139 L287.7 137.5 L288.5 136.2 L289.2 134.9 L290 133.8 L290.7 132.7 L291.4 131.7 L292.2 130.9 L292.9 130.2 L293.7 129.7 L294.4 129.2 L295.2 128.8 L295.9 128.4 L296.7 128.2 L297.4 128.2 L298.2 128.2 L298.9 128.2 L299.7 128.3 L300.4 128.3 L301.1 128.4 L301.9 128.4 L302.6 128.5 L303.4 128.6 L304.1 128.8 L304.9 129.1 L305.6 129.5 L306.4 129.9 L307.1 130.3 L307.9 130.8 L308.6 131.3 L309.4 131.9 L310.1 132.5 L310.8 133.3 L311.6 134.3 L312.3 135.4 L313.1 136.7 L313.8 137.9 L314.6 139.2 L315.3 140.4 L316.1 141.5 L316.8 142.7 L317.6 143.9 L318.3 145.2 L319.1 146.4 L319.8 147.6 L320.5 148.8 L321.3 150 L322 151.1 L322.8 152.3 L323.5 153.4 L324.3 154.6 L325 155.7 L325.8 156.8 L326.5 157.9 L327.3 159 L328 160.1 L328.8 161.2 L329.5 162.3 L330.2 163.4 L331 164.5 L331.7 165.6 L332.5 166.6 L333.2 167.6 L334 168.5 L334.7 169.4 L335.5 170.3 L336.2 171.1 L337 171.9 L337.7 172.6 L338.4 173.2 L339.2 173.8 L339.9 174.3 L340.7 174.9 L341.4 175.3 L342.2 175.8 L342.9 176.2 L343.7 176.7 L344.4 177.1 L345.2 177.5 L345.2 179.3 L344.4 179.3 L343.7 179.3 L342.9 179.3 L342.2 179.3 L341.4 179.3 L340.7 179.3 L339.9 179.3 L339.2 179.3 L338.4 179.3 L337.7 179.3 L337 179.3 L336.2 179.3 L335.5 179.3 L334.7 179.3 L334 179.3 L333.2 179.3 L332.5 179.3 L331.7 179.3 L331 179.3 L330.2 179.3 L329.5 179.3 L328.8 179.3 L328 179.3 L327.3 179.3 L326.5 179.3 L325.8 179.3 L325 179.3 L324.3 179.3 L323.5 179.3 L322.8 179.3 L322 179.3 L321.3 179.3 L320.5 179.3 L319.8 179.3 L319.1 179.3 L318.3 179.3 L317.6 179.3 L316.8 179.3 L316.1 179.3 L315.3 179.3 L314.6 179.3 L313.8 179.3 L313.1 179.3 L312.3 179.3 L311.6 179.3 L310.8 179.3 L310.1 179.3 L309.4 179.3 L308.6 179.3 L307.9 179.3 L307.1 179.3 L306.4 179.3 L305.6 179.3 L304.9 179.3 L304.1 179.3 L303.4 179.3 L302.6 179.3 L301.9 179.3 L301.1 179.3 L300.4 179.3 L299.7 179.3 L298.9 179.3 L298.2 179.3 L297.4 179.3 L296.7 179.3 L295.9 179.3 L295.2 179.3 L294.4 179.3 L293.7 179.3 L292.9 179.3 L292.2 179.3 L291.4 179.3 L290.7 179.3 L290 179.3 L289.2 179.3 L288.5 179.3 L287.7 179.3 L287 179.3 L286.2 179.3 L285.5 179.3 L284.7 179.3 L284 179.3 L283.2 179.3 L282.5 179.3 L281.8 179.3 L281 179.3 L280.3 179.3 L279.5 179.3 L278.8 179.3 L278 179.3 L277.3 179.3 L276.5 179.3 L275.8 179.3 L275 179.3 L274.3 179.3 L273.5 179.3 L272.8 179.3 L272.1 179.3 L271.3 179.3 L270.6 179.3 L269.8 179.3 L269.1 179.3 L268.3 179.3 L267.6 179.3 L266.8 179.3Z" fill="url(#hatch)" stroke="#666" stroke-width="0.5"/>
<path d="M264.6 177.7 L265.3 177.1 L266.1 176.2 L266.8 175.2 L267.6 173.8 L268.3 172.1 L269.1 170 L269.8 167.4 L270.6 164.4 L271.3 160.9 L272.1 157 L272.8 152.5 L273.5 147.7 L274.3 142.5 L275 137.1 L275.8 131.6 L276.5 126.2 L277.3 121.1 L278 116.4 L278.8 112.3 L279.5 109.1 L280.3 106.7 L281 105.4 L281.8 105.2 L282.5 106.1 L283.2 108 L284 110.9 L284.7 114.7 L285.5 119.1 L286.2 124.1 L287 129.4 L287.7 134.9 L288.5 140.3 L289.2 145.6 L290 150.6 L290.7 155.2 L291.4 159.4 L292.2 163.1 L292.9 166.3 L293.7 169 L294.4 171.3 L295.2 173.2 L295.9 174.7 L296.7 175.8 L297.4 176.8 L298.2 177.5 L298.2 179.3 L297.4 179.3 L296.7 179.3 L295.9 179.3 L295.2 179.3 L294.4 179.3 L293.7 179.3 L292.9 179.3 L292.2 179.3 L291.4 179.3 L290.7 179.3 L290 179.3 L289.2 179.3 L288.5 179.3 L287.7 179.3 L287 179.3 L286.2 179.3 L285.5 179.3 L284.7 179.3 L284 179.3 L283.2 179.3 L282.5 179.3 L281.8 179.3 L281 179.3 L280.3 179.3 L279.5 179.3 L278.8 179.3 L278 179.3 L277.3 179.3 L276.5 179.3 L275.8 179.3 L275 179.3 L274.3 179.3 L273.5 179.3 L272.8 179.3 L272.1 179.3 L271.3 179.3 L270.6 179.3 L269.8 179.3 L269.1 179.3 L268.3 179.3 L267.6 179.3 L266.8 179.3 L266.1 179.3 L265.3 179.3 L264.6 179.3Z" fill="#ec1118" stroke="#3a0a0a" stroke-width="0.45"/>
<path d="M302.6 177.8 L303.4 177.6 L304.1 177.4 L304.9 177.1 L305.6 176.9 L306.4 176.6 L307.1 176.4 L307.9 176.1 L308.6 175.8 L309.4 175.5 L310.1 175.1 L310.8 174.8 L311.6 174.5 L312.3 174.1 L313.1 173.8 L313.8 173.5 L314.6 173.2 L315.3 172.8 L316.1 172.5 L316.8 172.3 L317.6 172 L318.3 171.8 L319.1 171.6 L319.8 171.4 L320.5 171.2 L321.3 171.1 L322 171.1 L322.8 171 L323.5 171 L324.3 171 L325 171.1 L325.8 171.2 L326.5 171.4 L327.3 171.5 L328 171.7 L328.8 172 L329.5 172.2 L330.2 172.5 L331 172.8 L331.7 173.1 L332.5 173.4 L333.2 173.7 L334 174.1 L334.7 174.4 L335.5 174.7 L336.2 175.1 L337 175.4 L337.7 175.7 L338.4 176 L339.2 176.3 L339.9 176.6 L340.7 176.8 L341.4 177.1 L342.2 177.3 L342.9 177.5 L343.7 177.7 L344.4 177.9 L344.4 179.3 L343.7 179.3 L342.9 179.3 L342.2 179.3 L341.4 179.3 L340.7 179.3 L339.9 179.3 L339.2 179.3 L338.4 179.3 L337.7 179.3 L337 179.3 L336.2 179.3 L335.5 179.3 L334.7 179.3 L334 179.3 L333.2 179.3 L332.5 179.3 L331.7 179.3 L331 179.3 L330.2 179.3 L329.5 179.3 L328.8 179.3 L328 179.3 L327.3 179.3 L326.5 179.3 L325.8 179.3 L325 179.3 L324.3 179.3 L323.5 179.3 L322.8 179.3 L322 179.3 L321.3 179.3 L320.5 179.3 L319.8 179.3 L319.1 179.3 L318.3 179.3 L317.6 179.3 L316.8 179.3 L316.1 179.3 L315.3 179.3 L314.6 179.3 L313.8 179.3 L313.1 179.3 L312.3 179.3 L311.6 179.3 L310.8 179.3 L310.1 179.3 L309.4 179.3 L308.6 179.3 L307.9 179.3 L307.1 179.3 L306.4 179.3 L305.6 179.3 L304.9 179.3 L304.1 179.3 L303.4 179.3 L302.6 179.3Z" fill="#ec1118" stroke="#3a0a0a" stroke-width="0.45"/>
<path d="M266.8 177.8 L267.6 177.2 L268.3 176.6 L269.1 175.9 L269.8 175.1 L270.6 174.1 L271.3 172.9 L272.1 171.6 L272.8 170.2 L273.5 168.6 L274.3 167.1 L275 165.5 L275.8 163.9 L276.5 162.4 L277.3 160.8 L278 159.2 L278.8 157.5 L279.5 155.8 L280.3 154 L281 152.3 L281.8 150.5 L282.5 148.8 L283.2 147.1 L284 145.5 L284.7 143.8 L285.5 142.2 L286.2 140.6 L287 139 L287.7 137.5 L288.5 140.3 L289.2 145.6 L290 150.6 L290.7 155.2 L291.4 159.4 L292.2 163.1 L292.9 166.3 L293.7 169 L294.4 171.3 L295.2 173.2 L295.9 174.7 L296.7 175.8 L297.4 176.8 L298.2 177.5 L298.2 179.3 L297.4 179.3 L296.7 179.3 L295.9 179.3 L295.2 179.3 L294.4 179.3 L293.7 179.3 L292.9 179.3 L292.2 179.3 L291.4 179.3 L290.7 179.3 L290 179.3 L289.2 179.3 L288.5 179.3 L287.7 179.3 L287 179.3 L286.2 179.3 L285.5 179.3 L284.7 179.3 L284 179.3 L283.2 179.3 L282.5 179.3 L281.8 179.3 L281 179.3 L280.3 179.3 L279.5 179.3 L278.8 179.3 L278 179.3 L277.3 179.3 L276.5 179.3 L275.8 179.3 L275 179.3 L274.3 179.3 L273.5 179.3 L272.8 179.3 L272.1 179.3 L271.3 179.3 L270.6 179.3 L269.8 179.3 L269.1 179.3 L268.3 179.3 L267.6 179.3 L266.8 179.3Z" fill="#cf1323" stroke="none"/>
<path d="M302.6 177.8 L303.4 177.6 L304.1 177.4 L304.9 177.1 L305.6 176.9 L306.4 176.6 L307.1 176.4 L307.9 176.1 L308.6 175.8 L309.4 175.5 L310.1 175.1 L310.8 174.8 L311.6 174.5 L312.3 174.1 L313.1 173.8 L313.8 173.5 L314.6 173.2 L315.3 172.8 L316.1 172.5 L316.8 172.3 L317.6 172 L318.3 171.8 L319.1 171.6 L319.8 171.4 L320.5 171.2 L321.3 171.1 L322 171.1 L322.8 171 L323.5 171 L324.3 171 L325 171.1 L325.8 171.2 L326.5 171.4 L327.3 171.5 L328 171.7 L328.8 172 L329.5 172.2 L330.2 172.5 L331 172.8 L331.7 173.1 L332.5 173.4 L333.2 173.7 L334 174.1 L334.7 174.4 L335.5 174.7 L336.2 175.1 L337 175.4 L337.7 175.7 L338.4 176 L339.2 176.3 L339.9 176.6 L340.7 176.8 L341.4 177.1 L342.2 177.3 L342.9 177.5 L343.7 177.7 L344.4 177.9 L344.4 179.3 L343.7 179.3 L342.9 179.3 L342.2 179.3 L341.4 179.3 L340.7 179.3 L339.9 179.3 L339.2 179.3 L338.4 179.3 L337.7 179.3 L337 179.3 L336.2 179.3 L335.5 179.3 L334.7 179.3 L334 179.3 L333.2 179.3 L332.5 179.3 L331.7 179.3 L331 179.3 L330.2 179.3 L329.5 179.3 L328.8 179.3 L328 179.3 L327.3 179.3 L326.5 179.3 L325.8 179.3 L325 179.3 L324.3 179.3 L323.5 179.3 L322.8 179.3 L322 179.3 L321.3 179.3 L320.5 179.3 L319.8 179.3 L319.1 179.3 L318.3 179.3 L317.6 179.3 L316.8 179.3 L316.1 179.3 L315.3 179.3 L314.6 179.3 L313.8 179.3 L313.1 179.3 L312.3 179.3 L311.6 179.3 L310.8 179.3 L310.1 179.3 L309.4 179.3 L308.6 179.3 L307.9 179.3 L307.1 179.3 L306.4 179.3 L305.6 179.3 L304.9 179.3 L304.1 179.3 L303.4 179.3 L302.6 179.3Z" fill="#cf1323" stroke="none"/>
<path d="M266.1 178.4 L266.8 177.8 L267.6 177.2 L268.3 176.6 L269.1 175.9 L269.8 175.1 L270.6 174.1 L271.3 172.9 L272.1 171.6 L272.8 170.2 L273.5 168.6 L274.3 167.1 L275 165.5 L275.8 163.9 L276.5 162.4 L277.3 160.8 L278 159.2 L278.8 157.5 L279.5 155.8 L280.3 154 L281 152.3 L281.8 150.5 L282.5 148.8 L283.2 147.1 L284 145.5 L284.7 143.8 L285.5 142.2 L286.2 140.6 L287 139 L287.7 137.5 L288.5 136.2" fill="none" stroke="#5a0a14" stroke-width="0.45"/>
<path d="M342.2 175.8 L342.9 176.2 L343.7 176.7 L344.4 177.1 L345.2 177.5 L345.9 177.9" fill="none" stroke="#5a0a14" stroke-width="0.45"/>
<path d="M240.7 178.5 L241.5 178.1 L242.2 177.8 L243 177.6 L243.7 177.5 L244.5 177.3 L245.2 177.2 L245.9 177.1 L246.7 177 L247.4 176.9 L248.2 176.8 L248.9 176.7 L249.7 176.7 L250.4 176.6 L251.2 176.5 L251.9 176.5 L252.7 176.4 L253.4 176.4 L254.2 176.3 L254.9 176.3 L255.6 176.2 L256.4 176.2 L257.1 176.1 L257.9 176.1 L258.6 176 L259.4 176 L260.1 176 L260.9 175.9 L261.6 175.9 L262.4 175.9 L263.1 175.9 L263.8 175.8 L264.6 175.8 L265.3 175.8 L266.1 175.7 L266.8 175.7 L267.6 175.7 L268.3 175.7 L269.1 175.6 L269.8 175.6 L270.6 175.6 L271.3 175.6 L272.1 175.6 L272.8 175.6 L273.5 175.6 L274.3 175.6 L275 175.6 L275.8 175.6 L276.5 175.6 L277.3 175.6 L278 175.7 L278.8 175.7 L279.5 175.7 L280.3 175.7 L281 175.8 L281.8 175.8 L282.5 175.8 L283.2 175.9 L284 175.9 L284.7 176 L285.5 176 L286.2 176.1 L287 176.1 L287.7 176.2 L288.5 176.3 L289.2 176.4 L290 176.5 L290.7 176.6 L291.4 176.7 L292.2 176.8 L292.9 176.9 L293.7 177 L294.4 177.2 L295.2 177.3 L295.9 177.4 L296.7 177.5 L297.4 177.7 L298.2 177.8 L298.9 178 L299.7 178.2 L300.4 178.3 L301.1 178.5 L301.9 178.7 L301.9 179.3 L301.1 179.3 L300.4 179.3 L299.7 179.3 L298.9 179.3 L298.2 179.3 L297.4 179.3 L296.7 179.3 L295.9 179.3 L295.2 179.3 L294.4 179.3 L293.7 179.3 L292.9 179.3 L292.2 179.3 L291.4 179.3 L290.7 179.3 L290 179.3 L289.2 179.3 L288.5 179.3 L287.7 179.3 L287 179.3 L286.2 179.3 L285.5 179.3 L284.7 179.3 L284 179.3 L283.2 179.3 L282.5 179.3 L281.8 179.3 L281 179.3 L280.3 179.3 L279.5 179.3 L278.8 179.3 L278 179.3 L277.3 179.3 L276.5 179.3 L275.8 179.3 L275 179.3 L274.3 179.3 L273.5 179.3 L272.8 179.3 L272.1 179.3 L271.3 179.3 L270.6 179.3 L269.8 179.3 L269.1 179.3 L268.3 179.3 L267.6 179.3 L266.8 179.3 L266.1 179.3 L265.3 179.3 L264.6 179.3 L263.8 179.3 L263.1 179.3 L262.4 179.3 L261.6 179.3 L260.9 179.3 L260.1 179.3 L259.4 179.3 L258.6 179.3 L257.9 179.3 L257.1 179.3 L256.4 179.3 L255.6 179.3 L254.9 179.3 L254.2 179.3 L253.4 179.3 L252.7 179.3 L251.9 179.3 L251.2 179.3 L250.4 179.3 L249.7 179.3 L248.9 179.3 L248.2 179.3 L247.4 179.3 L246.7 179.3 L245.9 179.3 L245.2 179.3 L244.5 179.3 L243.7 179.3 L243 179.3 L242.2 179.3 L241.5 179.3 L240.7 179.3Z" fill="#a8a8e8" fill-opacity="0.45" stroke="none"/>
<path d="M240.7 178.5 L241.5 178.1 L242.2 177.8 L243 177.6 L243.7 177.5 L244.5 177.3 L245.2 177.2 L245.9 177.1 L246.7 177 L247.4 176.9 L248.2 176.8 L248.9 176.7 L249.7 176.7 L250.4 176.6 L251.2 176.5 L251.9 176.5 L252.7 176.4 L253.4 176.4 L254.2 176.3 L254.9 176.3 L255.6 176.2 L256.4 176.2 L257.1 176.1 L257.9 176 L258.6 176 L259.4 175.9 L260.1 175.8 L260.9 175.7 L261.6 175.5 L262.4 175.3 L263.1 175.1 L263.8 174.7 L264.6 174 L265.3 173 L266.1 171.7 L266.8 170.1 L267.6 168.1 L268.3 165.7 L269.1 162.9 L269.8 159.6 L270.6 155.5 L271.3 150.8 L272.1 145.5 L272.8 139.6 L273.5 133.3 L274.3 126.5 L275 119.6 L275.8 112.5 L276.5 105.6 L277.3 98.9 L278 92.7 L278.8 86.9 L279.5 82 L280.3 77.9 L281 74.9 L281.8 72.9 L282.5 72.1 L283.2 72.4 L284 73.7 L284.7 75.9 L285.5 78.7 L286.2 82.1 L287 85.9 L287.7 90 L288.5 94.1 L289.2 98.3 L290 102.2 L290.7 105.8 L291.4 109.1 L292.2 112 L292.9 114.6 L293.7 116.9 L294.4 118.7 L295.2 120.2 L295.9 121.4 L296.7 122.5 L297.4 123.4 L298.2 124.2 L298.9 124.8 L299.7 125.3 L300.4 125.7 L301.1 126 L301.9 126.2 L302.6 126.4 L303.4 126.6 L304.1 126.8 L304.9 126.9 L305.6 127 L306.4 127.2 L307.1 127.4 L307.9 127.6 L308.6 127.8 L309.4 128.1 L310.1 128.3 L310.8 128.8 L311.6 129.5 L312.3 130.3 L313.1 131.2 L313.8 132.1 L314.6 133 L315.3 133.9 L316.1 134.8 L316.8 135.7 L317.6 136.7 L318.3 137.6 L319.1 138.7 L319.8 139.7 L320.5 140.7 L321.3 141.8 L322 142.9 L322.8 144 L323.5 145.1 L324.3 146.3 L325 147.5 L325.8 148.7 L326.5 150 L327.3 151.2 L328 152.5 L328.8 153.9 L329.5 155.2 L330.2 156.6 L331 158 L331.7 159.4 L332.5 160.7 L333.2 162 L334 163.3 L334.7 164.5 L335.5 165.7 L336.2 166.9 L337 167.9 L337.7 169 L338.4 169.9 L339.2 170.8 L339.9 171.6 L340.7 172.4 L341.4 173.1 L342.2 173.8 L342.9 174.5 L343.7 175.1 L344.4 175.7 L345.2 176.3 L345.9 176.9 L346.7 177.4 L347.4 177.8 L348.1 178.2 L348.9 178.5" fill="none" stroke="#222" stroke-width="0.55"/>
<path d="M237.7 179.3 L238.5 179.3 L239.2 179.3 L240 178.5 L240.7 177.5 L241.5 178 L242.2 178 L243 177.8 L243.7 175.9 L244.5 174.7 L245.2 175.6 L245.9 176.7 L246.7 176.1 L247.4 173.4 L248.2 174.5 L248.9 176.1 L249.7 174.4 L250.4 175.2 L251.2 174.5 L251.9 174.1 L252.7 174.1 L253.4 172.7 L254.2 173 L254.9 173.1 L255.6 171.7 L256.4 170.8 L257.1 172.6 L257.9 170.7 L258.6 170.9 L259.4 169.5 L260.1 170.2 L260.9 168.3 L261.6 167.8 L262.4 167.5 L263.1 167.6 L263.8 166.4 L264.6 166.3 L265.3 166.2 L266.1 164.4 L266.8 165.8 L267.6 161.9 L268.3 160.7 L269.1 162.4 L269.8 156.1 L270.6 154.9 L271.3 148.6 L272.1 143.7 L272.8 143.1 L273.5 132.8 L274.3 126.3 L275 115.3 L275.8 115.3 L276.5 101.1 L277.3 101.4 L278 91.4 L278.8 87.2 L279.5 70.7 L280.3 70.4 L281 67.6 L281.8 63.5 L282.5 59.5 L283.2 66 L284 74.1 L284.7 72.1 L285.5 66.2 L286.2 76.2 L287 75.1 L287.7 78.1 L288.5 79.5 L289.2 88.5 L290 92.6 L290.7 96.4 L291.4 102.1 L292.2 109.6 L292.9 106.9 L293.7 117.2 L294.4 119.1 L295.2 120.9 L295.9 115 L296.7 120.2 L297.4 123 L298.2 124.3 L298.9 120.2 L299.7 125.1 L300.4 126.1 L301.1 120.8 L301.9 126.4 L302.6 124 L303.4 123.2 L304.1 124.8 L304.9 123.7 L305.6 119.7 L306.4 125.3 L307.1 127.7 L307.9 129.6 L308.6 125.1 L309.4 125.8 L310.1 124.4 L310.8 127.1 L311.6 127.9 L312.3 129.4 L313.1 129.8 L313.8 119 L314.6 131.4 L315.3 131.1 L316.1 127.4 L316.8 132.1 L317.6 138.5 L318.3 131.2 L319.1 135.8 L319.8 140.1 L320.5 136.8 L321.3 140.1 L322 142.7 L322.8 143.9 L323.5 145.9 L324.3 144.9 L325 144 L325.8 148.2 L326.5 148 L327.3 146.5 L328 153.8 L328.8 152.4 L329.5 154.7 L330.2 157.4 L331 158.5 L331.7 158 L332.5 158.5 L333.2 161.2 L334 161.4 L334.7 161.6 L335.5 163.3 L336.2 163.7 L337 165.3 L337.7 166.3 L338.4 165.7 L339.2 168 L339.9 169.4 L340.7 169.6 L341.4 172.1 L342.2 172.2 L342.9 171.6 L343.7 172.4 L344.4 172.2 L345.2 174.3 L345.9 176.4 L346.7 173.8 L347.4 175.2 L348.1 177.6 L348.9 175.8 L349.6 177.4 L350.4 179.3 L351.1 178.3 L351.9 178.5 L352.6 176.9 L353.4 179.1 L354.1 178.9 L354.9 179.1 L355.6 179.3 L356.4 179.3 L357.1 179 L357.8 178.3 L358.6 178.7 L359.3 179.3 L360.1 179.3 L360.8 179.2 L361.6 179.3 L362.3 179.3 L363.1 179.3" fill="none" stroke="#2a2a2a" stroke-width="0.6" stroke-linejoin="bevel"/>
<path d="M235.5 179.3 H369.8 M235.5 179.3 V43.9" stroke="#555" stroke-width="0.9" fill="none"/>
<path d="M235.5 179.3 v4.5 M243 179.3 v2.6 M250.4 179.3 v2.6 M257.9 179.3 v2.6 M265.3 179.3 v2.6 M272.8 179.3 v4.5 M280.3 179.3 v2.6 M287.7 179.3 v2.6 M295.2 179.3 v2.6 M302.6 179.3 v2.6 M310.1 179.3 v4.5 M317.6 179.3 v2.6 M325 179.3 v2.6 M332.5 179.3 v2.6 M339.9 179.3 v2.6 M347.4 179.3 v4.5 M354.9 179.3 v2.6 M362.3 179.3 v2.6 M369.8 179.3 v2.6 M235.5 179.3 h-4.5 M235.5 172.5 h-2.6 M235.5 165.8 h-2.6 M235.5 159 h-2.6 M235.5 152.2 h-2.6 M235.5 145.5 h-4.5 M235.5 138.7 h-2.6 M235.5 131.9 h-2.6 M235.5 125.1 h-2.6 M235.5 118.4 h-2.6 M235.5 111.6 h-4.5 M235.5 104.8 h-2.6 M235.5 98.1 h-2.6 M235.5 91.3 h-2.6 M235.5 84.5 h-2.6 M235.5 77.8 h-4.5 M235.5 71 h-2.6 M235.5 64.2 h-2.6 M235.5 57.4 h-2.6 M235.5 50.7 h-2.6 M235.5 43.9 h-4.5" stroke="#555" stroke-width="0.8" fill="none"/>
<text x="235.5" y="192.6" text-anchor="middle" class="tk" style="font-size:8.5px">0</text>
<text x="272.8" y="192.6" text-anchor="middle" class="tk" style="font-size:8.5px">50</text>
<text x="310.1" y="192.6" text-anchor="middle" class="tk" style="font-size:8.5px">100</text>
<text x="347.4" y="192.6" text-anchor="middle" class="tk" style="font-size:8.5px">150</text>
<text transform="translate(230.1 179.3) rotate(-90)" text-anchor="middle" class="tk" style="font-size:8.5px">0</text>
<text transform="translate(230.1 145.5) rotate(-90)" text-anchor="middle" class="tk" style="font-size:8.5px">100</text>
<text transform="translate(230.1 111.6) rotate(-90)" text-anchor="middle" class="tk" style="font-size:8.5px">200</text>
<text transform="translate(230.1 77.8) rotate(-90)" text-anchor="middle" class="tk" style="font-size:8.5px">300</text>
<text transform="translate(230.1 43.9) rotate(-90)" text-anchor="middle" class="tk" style="font-size:8.5px">400</text>
<text x="303.8" y="202.3" text-anchor="middle" class="tk">B6-A</text>
<text transform="translate(217.5 110) rotate(-90)" text-anchor="middle" class="nm">Number</text>
<rect x="343.6" y="40.2" width="5.4" height="4.6" fill="#b4b6e2" stroke="#6a6a8a" stroke-width="0.5"/>
<text x="349.2" y="44.2" class="lg" style="font-size:5.3px">Debris</text>
<rect x="343.6" y="45.2" width="5.4" height="4.6" fill="#b6dbb0" stroke="#6a6a8a" stroke-width="0.5"/>
<text x="349.2" y="49.2" class="lg" style="font-size:5.3px">Aggregates</text>
<rect x="343.6" y="50.2" width="5.4" height="4.6" fill="#ec1118" stroke="#6a6a8a" stroke-width="0.5"/>
<text x="349.2" y="54.2" class="lg" style="font-size:5.3px">Dip G1</text>
<rect x="343.6" y="55.2" width="5.4" height="4.6" fill="#ec1118" stroke="#6a6a8a" stroke-width="0.5"/>
<text x="349.2" y="59.2" class="lg" style="font-size:5.3px">Dip G2</text>
<rect x="343.6" y="60.2" width="5.4" height="4.6" fill="url(#hatchL)" stroke="#6a6a8a" stroke-width="0.5"/>
<text x="349.2" y="64.2" class="lg" style="font-size:5.3px">Dip S</text>
<path d="M442.5 178.9 L443.3 178.5 L444 178.2 L444.8 178 L445.5 177.9 L446.3 177.7 L447 177.6 L447.7 177.5 L448.5 177.4 L449.2 177.3 L450 177.2 L450.7 177.1 L451.5 177.1 L452.2 177 L453 176.9 L453.7 176.9 L454.5 176.8 L455.2 176.8 L455.9 176.7 L456.7 176.7 L457.4 176.6 L458.2 176.6 L458.9 176.5 L459.7 176.5 L460.4 176.4 L461.2 176.4 L461.9 176.4 L462.7 176.3 L463.4 176.3 L464.2 176.3 L464.9 176.3 L465.6 176.2 L466.4 176.2 L467.1 176.2 L467.9 176.1 L468.6 176.1 L469.4 176.1 L470.1 176.1 L470.9 176 L471.6 176 L472.4 176 L473.1 176 L473.9 176 L474.6 176 L475.3 176 L476.1 176 L476.8 176 L477.6 176 L478.3 176 L479.1 176 L479.8 176.1 L480.6 176.1 L481.3 176.1 L482.1 176.1 L482.8 176.2 L483.6 176.2 L484.3 176.2 L485 176.3 L485.8 176.3 L486.5 176.4 L487.3 176.4 L488 176.5 L488.8 176.5 L489.5 176.6 L490.3 176.7 L491 176.8 L491.8 176.9 L492.5 177 L493.2 177.1 L494 177.2 L494.7 177.3 L495.5 177.4 L496.2 177.6 L497 177.7 L497.7 177.8 L498.5 177.9 L499.2 178.1 L500 178.2 L500.7 178.4 L501.5 178.6 L502.2 178.7 L502.9 178.9 L503.7 179.1 L503.7 179.7 L502.9 179.7 L502.2 179.7 L501.5 179.7 L500.7 179.7 L500 179.7 L499.2 179.7 L498.5 179.7 L497.7 179.7 L497 179.7 L496.2 179.7 L495.5 179.7 L494.7 179.7 L494 179.7 L493.2 179.7 L492.5 179.7 L491.8 179.7 L491 179.7 L490.3 179.7 L489.5 179.7 L488.8 179.7 L488 179.7 L487.3 179.7 L486.5 179.7 L485.8 179.7 L485 179.7 L484.3 179.7 L483.6 179.7 L482.8 179.7 L482.1 179.7 L481.3 179.7 L480.6 179.7 L479.8 179.7 L479.1 179.7 L478.3 179.7 L477.6 179.7 L476.8 179.7 L476.1 179.7 L475.3 179.7 L474.6 179.7 L473.9 179.7 L473.1 179.7 L472.4 179.7 L471.6 179.7 L470.9 179.7 L470.1 179.7 L469.4 179.7 L468.6 179.7 L467.9 179.7 L467.1 179.7 L466.4 179.7 L465.6 179.7 L464.9 179.7 L464.2 179.7 L463.4 179.7 L462.7 179.7 L461.9 179.7 L461.2 179.7 L460.4 179.7 L459.7 179.7 L458.9 179.7 L458.2 179.7 L457.4 179.7 L456.7 179.7 L455.9 179.7 L455.2 179.7 L454.5 179.7 L453.7 179.7 L453 179.7 L452.2 179.7 L451.5 179.7 L450.7 179.7 L450 179.7 L449.2 179.7 L448.5 179.7 L447.7 179.7 L447 179.7 L446.3 179.7 L445.5 179.7 L444.8 179.7 L444 179.7 L443.3 179.7 L442.5 179.7Z" fill="#b4b6e2" stroke="#5a5a9a" stroke-width="0.4"/>
<path d="M467.1 178.1 L467.9 177.5 L468.6 176.9 L469.4 176.2 L470.1 175.4 L470.9 174.6 L471.6 173.7 L472.4 172.7 L473.1 171.4 L473.9 170.1 L474.6 168.7 L475.3 167.2 L476.1 165.6 L476.8 164.1 L477.6 162.6 L478.3 161.1 L479.1 159.6 L479.8 158.1 L480.6 156.5 L481.3 155 L482.1 153.4 L482.8 151.8 L483.6 150.3 L484.3 148.7 L485 147.3 L485.8 145.8 L486.5 144.5 L487.3 143.1 L488 141.8 L488.8 140.5 L489.5 139.4 L490.3 138.3 L491 137.3 L491.8 136.3 L492.5 135.4 L493.2 134.6 L494 134 L494.7 133.5 L495.5 132.9 L496.2 132.5 L497 132.1 L497.7 132 L498.5 132 L499.2 132 L500 132 L500.7 132 L501.5 132 L502.2 132 L502.9 132 L503.7 132 L504.4 132.2 L505.2 132.5 L505.9 132.9 L506.7 133.2 L507.4 133.7 L508.2 134.2 L508.9 134.9 L509.7 135.7 L510.4 136.6 L511.2 137.6 L511.9 138.5 L512.6 139.5 L513.4 140.5 L514.1 141.6 L514.9 142.7 L515.6 143.9 L516.4 145 L517.1 146.2 L517.9 147.4 L518.6 148.6 L519.4 149.7 L520.1 150.8 L520.9 152 L521.6 153.1 L522.3 154.3 L523.1 155.4 L523.8 156.5 L524.6 157.6 L525.3 158.7 L526.1 159.8 L526.8 160.9 L527.6 162 L528.3 163.1 L529.1 164.1 L529.8 165.2 L530.5 166.2 L531.3 167.2 L532 168.1 L532.8 169 L533.5 169.8 L534.3 170.6 L535 171.4 L535.8 172.1 L536.5 172.8 L537.3 173.4 L538 173.9 L538.8 174.5 L539.5 175 L540.2 175.5 L541 175.9 L541.7 176.4 L542.5 176.8 L543.2 177.2 L544 177.5 L544.7 177.8 L545.5 178.1 L545.5 179.7 L544.7 179.7 L544 179.7 L543.2 179.7 L542.5 179.7 L541.7 179.7 L541 179.7 L540.2 179.7 L539.5 179.7 L538.8 179.7 L538 179.7 L537.3 179.7 L536.5 179.7 L535.8 179.7 L535 179.7 L534.3 179.7 L533.5 179.7 L532.8 179.7 L532 179.7 L531.3 179.7 L530.5 179.7 L529.8 179.7 L529.1 179.7 L528.3 179.7 L527.6 179.7 L526.8 179.7 L526.1 179.7 L525.3 179.7 L524.6 179.7 L523.8 179.7 L523.1 179.7 L522.3 179.7 L521.6 179.7 L520.9 179.7 L520.1 179.7 L519.4 179.7 L518.6 179.7 L517.9 179.7 L517.1 179.7 L516.4 179.7 L515.6 179.7 L514.9 179.7 L514.1 179.7 L513.4 179.7 L512.6 179.7 L511.9 179.7 L511.2 179.7 L510.4 179.7 L509.7 179.7 L508.9 179.7 L508.2 179.7 L507.4 179.7 L506.7 179.7 L505.9 179.7 L505.2 179.7 L504.4 179.7 L503.7 179.7 L502.9 179.7 L502.2 179.7 L501.5 179.7 L500.7 179.7 L500 179.7 L499.2 179.7 L498.5 179.7 L497.7 179.7 L497 179.7 L496.2 179.7 L495.5 179.7 L494.7 179.7 L494 179.7 L493.2 179.7 L492.5 179.7 L491.8 179.7 L491 179.7 L490.3 179.7 L489.5 179.7 L488.8 179.7 L488 179.7 L487.3 179.7 L486.5 179.7 L485.8 179.7 L485 179.7 L484.3 179.7 L483.6 179.7 L482.8 179.7 L482.1 179.7 L481.3 179.7 L480.6 179.7 L479.8 179.7 L479.1 179.7 L478.3 179.7 L477.6 179.7 L476.8 179.7 L476.1 179.7 L475.3 179.7 L474.6 179.7 L473.9 179.7 L473.1 179.7 L472.4 179.7 L471.6 179.7 L470.9 179.7 L470.1 179.7 L469.4 179.7 L468.6 179.7 L467.9 179.7 L467.1 179.7Z" fill="url(#hatch)" stroke="#666" stroke-width="0.5"/>
<path d="M461.9 178.3 L462.7 177.8 L463.4 177.2 L464.2 176.5 L464.9 175.5 L465.6 174.4 L466.4 172.9 L467.1 171.2 L467.9 169.2 L468.6 166.8 L469.4 164 L470.1 160.8 L470.9 157.3 L471.6 153.3 L472.4 149 L473.1 144.4 L473.9 139.6 L474.6 134.5 L475.3 129.4 L476.1 124.3 L476.8 119.3 L477.6 114.6 L478.3 110.3 L479.1 106.6 L479.8 103.4 L480.6 101 L481.3 99.3 L482.1 98.5 L482.8 98.6 L483.6 99.8 L484.3 101.9 L485 105 L485.8 108.8 L486.5 113.4 L487.3 118.4 L488 123.7 L488.8 129.3 L489.5 134.9 L490.3 140.4 L491 145.6 L491.8 150.6 L492.5 155.1 L493.2 159.2 L494 162.8 L494.7 166 L495.5 168.7 L496.2 171 L497 172.9 L497.7 174.5 L498.5 175.7 L499.2 176.7 L500 177.5 L500.7 178.1 L500.7 179.7 L500 179.7 L499.2 179.7 L498.5 179.7 L497.7 179.7 L497 179.7 L496.2 179.7 L495.5 179.7 L494.7 179.7 L494 179.7 L493.2 179.7 L492.5 179.7 L491.8 179.7 L491 179.7 L490.3 179.7 L489.5 179.7 L488.8 179.7 L488 179.7 L487.3 179.7 L486.5 179.7 L485.8 179.7 L485 179.7 L484.3 179.7 L483.6 179.7 L482.8 179.7 L482.1 179.7 L481.3 179.7 L480.6 179.7 L479.8 179.7 L479.1 179.7 L478.3 179.7 L477.6 179.7 L476.8 179.7 L476.1 179.7 L475.3 179.7 L474.6 179.7 L473.9 179.7 L473.1 179.7 L472.4 179.7 L471.6 179.7 L470.9 179.7 L470.1 179.7 L469.4 179.7 L468.6 179.7 L467.9 179.7 L467.1 179.7 L466.4 179.7 L465.6 179.7 L464.9 179.7 L464.2 179.7 L463.4 179.7 L462.7 179.7 L461.9 179.7Z" fill="#ec1118" stroke="#3a0a0a" stroke-width="0.45"/>
<path d="M500.7 178.3 L501.5 178.1 L502.2 177.9 L502.9 177.7 L503.7 177.4 L504.4 177.2 L505.2 176.9 L505.9 176.6 L506.7 176.3 L507.4 175.9 L508.2 175.6 L508.9 175.2 L509.7 174.9 L510.4 174.5 L511.2 174.1 L511.9 173.7 L512.6 173.3 L513.4 173 L514.1 172.6 L514.9 172.2 L515.6 171.9 L516.4 171.6 L517.1 171.3 L517.9 171 L518.6 170.8 L519.4 170.6 L520.1 170.5 L520.9 170.3 L521.6 170.3 L522.3 170.2 L523.1 170.2 L523.8 170.3 L524.6 170.3 L525.3 170.5 L526.1 170.6 L526.8 170.8 L527.6 171 L528.3 171.2 L529.1 171.5 L529.8 171.8 L530.5 172.1 L531.3 172.4 L532 172.7 L532.8 173.1 L533.5 173.4 L534.3 173.8 L535 174.2 L535.8 174.5 L536.5 174.9 L537.3 175.2 L538 175.6 L538.8 175.9 L539.5 176.2 L540.2 176.5 L541 176.8 L541.7 177.1 L542.5 177.3 L543.2 177.6 L544 177.8 L544.7 178 L545.5 178.2 L545.5 179.7 L544.7 179.7 L544 179.7 L543.2 179.7 L542.5 179.7 L541.7 179.7 L541 179.7 L540.2 179.7 L539.5 179.7 L538.8 179.7 L538 179.7 L537.3 179.7 L536.5 179.7 L535.8 179.7 L535 179.7 L534.3 179.7 L533.5 179.7 L532.8 179.7 L532 179.7 L531.3 179.7 L530.5 179.7 L529.8 179.7 L529.1 179.7 L528.3 179.7 L527.6 179.7 L526.8 179.7 L526.1 179.7 L525.3 179.7 L524.6 179.7 L523.8 179.7 L523.1 179.7 L522.3 179.7 L521.6 179.7 L520.9 179.7 L520.1 179.7 L519.4 179.7 L518.6 179.7 L517.9 179.7 L517.1 179.7 L516.4 179.7 L515.6 179.7 L514.9 179.7 L514.1 179.7 L513.4 179.7 L512.6 179.7 L511.9 179.7 L511.2 179.7 L510.4 179.7 L509.7 179.7 L508.9 179.7 L508.2 179.7 L507.4 179.7 L506.7 179.7 L505.9 179.7 L505.2 179.7 L504.4 179.7 L503.7 179.7 L502.9 179.7 L502.2 179.7 L501.5 179.7 L500.7 179.7Z" fill="#ec1118" stroke="#3a0a0a" stroke-width="0.45"/>
<path d="M467.1 178.1 L467.9 177.5 L468.6 176.9 L469.4 176.2 L470.1 175.4 L470.9 174.6 L471.6 173.7 L472.4 172.7 L473.1 171.4 L473.9 170.1 L474.6 168.7 L475.3 167.2 L476.1 165.6 L476.8 164.1 L477.6 162.6 L478.3 161.1 L479.1 159.6 L479.8 158.1 L480.6 156.5 L481.3 155 L482.1 153.4 L482.8 151.8 L483.6 150.3 L484.3 148.7 L485 147.3 L485.8 145.8 L486.5 144.5 L487.3 143.1 L488 141.8 L488.8 140.5 L489.5 139.4 L490.3 140.4 L491 145.6 L491.8 150.6 L492.5 155.1 L493.2 159.2 L494 162.8 L494.7 166 L495.5 168.7 L496.2 171 L497 172.9 L497.7 174.5 L498.5 175.7 L499.2 176.7 L500 177.5 L500.7 178.1 L501.5 178.1 L502.2 177.9 L502.9 177.7 L503.7 177.4 L504.4 177.2 L505.2 176.9 L505.9 176.6 L506.7 176.3 L507.4 175.9 L508.2 175.6 L508.9 175.2 L509.7 174.9 L510.4 174.5 L511.2 174.1 L511.9 173.7 L512.6 173.3 L513.4 173 L514.1 172.6 L514.9 172.2 L515.6 171.9 L516.4 171.6 L517.1 171.3 L517.9 171 L518.6 170.8 L519.4 170.6 L520.1 170.5 L520.9 170.3 L521.6 170.3 L522.3 170.2 L523.1 170.2 L523.8 170.3 L524.6 170.3 L525.3 170.5 L526.1 170.6 L526.8 170.8 L527.6 171 L528.3 171.2 L529.1 171.5 L529.8 171.8 L530.5 172.1 L531.3 172.4 L532 172.7 L532.8 173.1 L533.5 173.4 L534.3 173.8 L535 174.2 L535.8 174.5 L536.5 174.9 L537.3 175.2 L538 175.6 L538.8 175.9 L539.5 176.2 L540.2 176.5 L541 176.8 L541.7 177.1 L542.5 177.3 L543.2 177.6 L544 177.8 L544.7 178 L545.5 178.2 L545.5 179.7 L544.7 179.7 L544 179.7 L543.2 179.7 L542.5 179.7 L541.7 179.7 L541 179.7 L540.2 179.7 L539.5 179.7 L538.8 179.7 L538 179.7 L537.3 179.7 L536.5 179.7 L535.8 179.7 L535 179.7 L534.3 179.7 L533.5 179.7 L532.8 179.7 L532 179.7 L531.3 179.7 L530.5 179.7 L529.8 179.7 L529.1 179.7 L528.3 179.7 L527.6 179.7 L526.8 179.7 L526.1 179.7 L525.3 179.7 L524.6 179.7 L523.8 179.7 L523.1 179.7 L522.3 179.7 L521.6 179.7 L520.9 179.7 L520.1 179.7 L519.4 179.7 L518.6 179.7 L517.9 179.7 L517.1 179.7 L516.4 179.7 L515.6 179.7 L514.9 179.7 L514.1 179.7 L513.4 179.7 L512.6 179.7 L511.9 179.7 L511.2 179.7 L510.4 179.7 L509.7 179.7 L508.9 179.7 L508.2 179.7 L507.4 179.7 L506.7 179.7 L505.9 179.7 L505.2 179.7 L504.4 179.7 L503.7 179.7 L502.9 179.7 L502.2 179.7 L501.5 179.7 L500.7 179.7 L500 179.7 L499.2 179.7 L498.5 179.7 L497.7 179.7 L497 179.7 L496.2 179.7 L495.5 179.7 L494.7 179.7 L494 179.7 L493.2 179.7 L492.5 179.7 L491.8 179.7 L491 179.7 L490.3 179.7 L489.5 179.7 L488.8 179.7 L488 179.7 L487.3 179.7 L486.5 179.7 L485.8 179.7 L485 179.7 L484.3 179.7 L483.6 179.7 L482.8 179.7 L482.1 179.7 L481.3 179.7 L480.6 179.7 L479.8 179.7 L479.1 179.7 L478.3 179.7 L477.6 179.7 L476.8 179.7 L476.1 179.7 L475.3 179.7 L474.6 179.7 L473.9 179.7 L473.1 179.7 L472.4 179.7 L471.6 179.7 L470.9 179.7 L470.1 179.7 L469.4 179.7 L468.6 179.7 L467.9 179.7 L467.1 179.7Z" fill="#cf1323" stroke="none"/>
<path d="M466.4 178.7 L467.1 178.1 L467.9 177.5 L468.6 176.9 L469.4 176.2 L470.1 175.4 L470.9 174.6 L471.6 173.7 L472.4 172.7 L473.1 171.4 L473.9 170.1 L474.6 168.7 L475.3 167.2 L476.1 165.6 L476.8 164.1 L477.6 162.6 L478.3 161.1 L479.1 159.6 L479.8 158.1 L480.6 156.5 L481.3 155 L482.1 153.4 L482.8 151.8 L483.6 150.3 L484.3 148.7 L485 147.3 L485.8 145.8 L486.5 144.5 L487.3 143.1 L488 141.8 L488.8 140.5 L489.5 139.4 L490.3 138.3" fill="none" stroke="#5a0a14" stroke-width="0.45"/>
<path d="M538.8 174.5 L539.5 175 L540.2 175.5 L541 175.9 L541.7 176.4 L542.5 176.8 L543.2 177.2 L544 177.5 L544.7 177.8 L545.5 178.1 L546.2 178.4" fill="none" stroke="#5a0a14" stroke-width="0.45"/>
<path d="M442.5 178.9 L443.3 178.5 L444 178.2 L444.8 178 L445.5 177.9 L446.3 177.7 L447 177.6 L447.7 177.5 L448.5 177.4 L449.2 177.3 L450 177.2 L450.7 177.1 L451.5 177.1 L452.2 177 L453 176.9 L453.7 176.9 L454.5 176.8 L455.2 176.8 L455.9 176.7 L456.7 176.7 L457.4 176.6 L458.2 176.6 L458.9 176.5 L459.7 176.5 L460.4 176.4 L461.2 176.4 L461.9 176.4 L462.7 176.3 L463.4 176.3 L464.2 176.3 L464.9 176.3 L465.6 176.2 L466.4 176.2 L467.1 176.2 L467.9 176.1 L468.6 176.1 L469.4 176.1 L470.1 176.1 L470.9 176 L471.6 176 L472.4 176 L473.1 176 L473.9 176 L474.6 176 L475.3 176 L476.1 176 L476.8 176 L477.6 176 L478.3 176 L479.1 176 L479.8 176.1 L480.6 176.1 L481.3 176.1 L482.1 176.1 L482.8 176.2 L483.6 176.2 L484.3 176.2 L485 176.3 L485.8 176.3 L486.5 176.4 L487.3 176.4 L488 176.5 L488.8 176.5 L489.5 176.6 L490.3 176.7 L491 176.8 L491.8 176.9 L492.5 177 L493.2 177.1 L494 177.2 L494.7 177.3 L495.5 177.4 L496.2 177.6 L497 177.7 L497.7 177.8 L498.5 177.9 L499.2 178.1 L500 178.2 L500.7 178.4 L501.5 178.6 L502.2 178.7 L502.9 178.9 L503.7 179.1 L503.7 179.7 L502.9 179.7 L502.2 179.7 L501.5 179.7 L500.7 179.7 L500 179.7 L499.2 179.7 L498.5 179.7 L497.7 179.7 L497 179.7 L496.2 179.7 L495.5 179.7 L494.7 179.7 L494 179.7 L493.2 179.7 L492.5 179.7 L491.8 179.7 L491 179.7 L490.3 179.7 L489.5 179.7 L488.8 179.7 L488 179.7 L487.3 179.7 L486.5 179.7 L485.8 179.7 L485 179.7 L484.3 179.7 L483.6 179.7 L482.8 179.7 L482.1 179.7 L481.3 179.7 L480.6 179.7 L479.8 179.7 L479.1 179.7 L478.3 179.7 L477.6 179.7 L476.8 179.7 L476.1 179.7 L475.3 179.7 L474.6 179.7 L473.9 179.7 L473.1 179.7 L472.4 179.7 L471.6 179.7 L470.9 179.7 L470.1 179.7 L469.4 179.7 L468.6 179.7 L467.9 179.7 L467.1 179.7 L466.4 179.7 L465.6 179.7 L464.9 179.7 L464.2 179.7 L463.4 179.7 L462.7 179.7 L461.9 179.7 L461.2 179.7 L460.4 179.7 L459.7 179.7 L458.9 179.7 L458.2 179.7 L457.4 179.7 L456.7 179.7 L455.9 179.7 L455.2 179.7 L454.5 179.7 L453.7 179.7 L453 179.7 L452.2 179.7 L451.5 179.7 L450.7 179.7 L450 179.7 L449.2 179.7 L448.5 179.7 L447.7 179.7 L447 179.7 L446.3 179.7 L445.5 179.7 L444.8 179.7 L444 179.7 L443.3 179.7 L442.5 179.7Z" fill="#a8a8e8" fill-opacity="0.45" stroke="none"/>
<path d="M442.5 178.9 L443.3 178.5 L444 178.2 L444.8 178 L445.5 177.9 L446.3 177.7 L447 177.6 L447.7 177.5 L448.5 177.4 L449.2 177.3 L450 177.2 L450.7 177.1 L451.5 177 L452.2 177 L453 176.9 L453.7 176.8 L454.5 176.8 L455.2 176.7 L455.9 176.6 L456.7 176.5 L457.4 176.4 L458.2 176.3 L458.9 176.1 L459.7 175.9 L460.4 175.7 L461.2 175.4 L461.9 175 L462.7 174.5 L463.4 173.9 L464.2 173.1 L464.9 171.8 L465.6 170.3 L466.4 168.4 L467.1 166.1 L467.9 163.4 L468.6 160.3 L469.4 156.8 L470.1 152.9 L470.9 148.5 L471.6 143.7 L472.4 138.3 L473.1 132.4 L473.9 126.2 L474.6 119.8 L475.3 113.1 L476.1 106.5 L476.8 100 L477.6 93.8 L478.3 88.1 L479.1 82.8 L479.8 78.2 L480.6 74.2 L481.3 71 L482.1 68.7 L482.8 67.2 L483.6 66.8 L484.3 67.5 L485 69.1 L485.8 71.6 L486.5 74.7 L487.3 78.4 L488 82.5 L488.8 86.9 L489.5 91.4 L490.3 95.8 L491 100.1 L491.8 104.1 L492.5 107.8 L493.2 111.2 L494 114.3 L494.7 116.9 L495.5 119.2 L496.2 121 L497 122.6 L497.7 124 L498.5 125.3 L499.2 126.3 L500 127.1 L500.7 127.6 L501.5 128.1 L502.2 128.4 L502.9 128.6 L503.7 128.8 L504.4 129 L505.2 129.3 L505.9 129.6 L506.7 129.7 L507.4 129.8 L508.2 130 L508.9 130.4 L509.7 130.8 L510.4 131.4 L511.2 132 L511.9 132.6 L512.6 133.2 L513.4 133.8 L514.1 134.5 L514.9 135.2 L515.6 136.1 L516.4 136.9 L517.1 137.8 L517.9 138.7 L518.6 139.7 L519.4 140.6 L520.1 141.6 L520.9 142.6 L521.6 143.7 L522.3 144.8 L523.1 145.9 L523.8 147.1 L524.6 148.3 L525.3 149.5 L526.1 150.7 L526.8 152 L527.6 153.3 L528.3 154.6 L529.1 155.9 L529.8 157.3 L530.5 158.6 L531.3 159.9 L532 161.1 L532.8 162.3 L533.5 163.5 L534.3 164.7 L535 165.8 L535.8 166.9 L536.5 168 L537.3 168.9 L538 169.8 L538.8 170.6 L539.5 171.5 L540.2 172.3 L541 173 L541.7 173.7 L542.5 174.4 L543.2 175 L544 175.6 L544.7 176.1 L545.5 176.6 L546.2 177 L547 177.4 L547.7 177.7 L548.5 178 L549.2 178.3 L549.9 178.6 L550.7 178.8 L551.4 179" fill="none" stroke="#222" stroke-width="0.55"/>
<path d="M439.5 179.7 L440.3 179.4 L441 179.7 L441.8 179.7 L442.5 179.3 L443.3 179.4 L444 178 L444.8 176.5 L445.5 177.8 L446.3 177.7 L447 176.4 L447.7 176.3 L448.5 176.3 L449.2 177 L450 176 L450.7 175.1 L451.5 176.9 L452.2 175.9 L453 177.1 L453.7 176.4 L454.5 176.7 L455.2 175 L455.9 175.8 L456.7 174 L457.4 173.7 L458.2 173.1 L458.9 174.1 L459.7 170.6 L460.4 168.5 L461.2 166.8 L461.9 167.2 L462.7 165.2 L463.4 165.1 L464.2 164.4 L464.9 161.3 L465.6 162.3 L466.4 159.8 L467.1 156.8 L467.9 157.1 L468.6 154.3 L469.4 151.5 L470.1 148.6 L470.9 147.7 L471.6 140.7 L472.4 132.6 L473.1 134.9 L473.9 122.2 L474.6 118 L475.3 113.9 L476.1 97.2 L476.8 94.8 L477.6 96.4 L478.3 84.7 L479.1 76.7 L479.8 75.2 L480.6 66.3 L481.3 54.5 L482.1 60.5 L482.8 54.7 L483.6 57.2 L484.3 62.7 L485 50.7 L485.8 64.6 L486.5 76.7 L487.3 76.7 L488 78.4 L488.8 77.3 L489.5 80.5 L490.3 95.1 L491 96.6 L491.8 94.2 L492.5 106.9 L493.2 103.7 L494 105.1 L494.7 103.4 L495.5 108.1 L496.2 114 L497 116.4 L497.7 118 L498.5 114.5 L499.2 122 L500 123 L500.7 122.2 L501.5 124.4 L502.2 125.1 L502.9 128.2 L503.7 125.4 L504.4 127 L505.2 122.8 L505.9 124.7 L506.7 126.9 L507.4 125.1 L508.2 128.3 L508.9 124.8 L509.7 128.3 L510.4 127.3 L511.2 133.1 L511.9 129.3 L512.6 135.4 L513.4 137 L514.1 133.1 L514.9 117.1 L515.6 133.6 L516.4 129.2 L517.1 138 L517.9 138.5 L518.6 137.4 L519.4 137.8 L520.1 140.4 L520.9 141.6 L521.6 140.6 L522.3 142.2 L523.1 146.8 L523.8 146 L524.6 146.9 L525.3 150.4 L526.1 149 L526.8 152.5 L527.6 150.3 L528.3 153.2 L529.1 154.7 L529.8 157.3 L530.5 157.8 L531.3 162.1 L532 161.8 L532.8 160.6 L533.5 165.3 L534.3 162 L535 166.6 L535.8 164.1 L536.5 167.1 L537.3 165.9 L538 167.6 L538.8 170.5 L539.5 168 L540.2 168.6 L541 171.1 L541.7 172 L542.5 172.5 L543.2 174 L544 172.5 L544.7 174.6 L545.5 174.6 L546.2 175.8 L547 176 L547.7 177 L548.5 175.1 L549.2 176.8 L549.9 176.1 L550.7 177.3 L551.4 178.3 L552.2 178.3 L552.9 178.7 L553.7 178.5 L554.4 179 L555.2 179.1 L555.9 179.7 L556.7 179.7 L557.4 178 L558.2 179.7 L558.9 179.7 L559.6 179.3 L560.4 178.4 L561.1 179.7 L561.9 179.7 L562.6 179.7 L563.4 179.7 L564.1 179.1 L564.9 179.7" fill="none" stroke="#2a2a2a" stroke-width="0.6" stroke-linejoin="bevel"/>
<path d="M437.3 179.7 H571.6 M437.3 179.7 V44.3" stroke="#555" stroke-width="0.9" fill="none"/>
<path d="M437.3 179.7 v4.5 M444.8 179.7 v2.6 M452.2 179.7 v2.6 M459.7 179.7 v2.6 M467.1 179.7 v2.6 M474.6 179.7 v4.5 M482.1 179.7 v2.6 M489.5 179.7 v2.6 M497 179.7 v2.6 M504.4 179.7 v2.6 M511.9 179.7 v4.5 M519.4 179.7 v2.6 M526.8 179.7 v2.6 M534.3 179.7 v2.6 M541.7 179.7 v2.6 M549.2 179.7 v4.5 M556.7 179.7 v2.6 M564.1 179.7 v2.6 M571.6 179.7 v2.6 M437.3 179.7 h-4.5 M437.3 172.9 h-2.6 M437.3 166.2 h-2.6 M437.3 159.4 h-2.6 M437.3 152.6 h-2.6 M437.3 145.8 h-4.5 M437.3 139.1 h-2.6 M437.3 132.3 h-2.6 M437.3 125.5 h-2.6 M437.3 118.8 h-2.6 M437.3 112 h-4.5 M437.3 105.2 h-2.6 M437.3 98.5 h-2.6 M437.3 91.7 h-2.6 M437.3 84.9 h-2.6 M437.3 78.1 h-4.5 M437.3 71.4 h-2.6 M437.3 64.6 h-2.6 M437.3 57.8 h-2.6 M437.3 51.1 h-2.6 M437.3 44.3 h-4.5" stroke="#555" stroke-width="0.8" fill="none"/>
<text x="437.3" y="194.4" text-anchor="middle" class="tk" style="font-size:8.9px">0</text>
<text x="474.6" y="194.4" text-anchor="middle" class="tk" style="font-size:8.9px">50</text>
<text x="511.9" y="194.4" text-anchor="middle" class="tk" style="font-size:8.9px">100</text>
<text x="549.2" y="194.4" text-anchor="middle" class="tk" style="font-size:8.9px">150</text>
<text transform="translate(431.3 179.7) rotate(-90)" text-anchor="middle" class="tk" style="font-size:8.9px">0</text>
<text transform="translate(431.3 145.8) rotate(-90)" text-anchor="middle" class="tk" style="font-size:8.9px">100</text>
<text transform="translate(431.3 112) rotate(-90)" text-anchor="middle" class="tk" style="font-size:8.9px">200</text>
<text transform="translate(431.3 78.1) rotate(-90)" text-anchor="middle" class="tk" style="font-size:8.9px">300</text>
<text transform="translate(431.3 44.3) rotate(-90)" text-anchor="middle" class="tk" style="font-size:8.9px">400</text>
<text x="505.9" y="203.9" text-anchor="middle" class="tk">B6-A</text>
<text transform="translate(419.3 112) rotate(-90)" text-anchor="middle" class="nm">Number</text>
<rect x="545.3" y="40.7" width="5.4" height="4.6" fill="#b4b6e2" stroke="#6a6a8a" stroke-width="0.5"/>
<text x="550.9" y="46.3" class="lg" style="font-size:5.7px">Debris</text>
<rect x="545.3" y="45.7" width="5.4" height="4.6" fill="#b6dbb0" stroke="#6a6a8a" stroke-width="0.5"/>
<text x="550.9" y="51.8" class="lg" style="font-size:5.7px">Aggregates</text>
<rect x="545.3" y="50.7" width="5.4" height="4.6" fill="#ec1118" stroke="#6a6a8a" stroke-width="0.5"/>
<text x="550.9" y="57.2" class="lg" style="font-size:5.7px">Dip G1</text>
<rect x="545.3" y="55.7" width="5.4" height="4.6" fill="#ec1118" stroke="#6a6a8a" stroke-width="0.5"/>
<text x="550.9" y="62.7" class="lg" style="font-size:5.7px">Dip G2</text>
<rect x="545.3" y="60.7" width="5.4" height="4.6" fill="url(#hatchL)" stroke="#6a6a8a" stroke-width="0.5"/>
<text x="550.9" y="68.1" class="lg" style="font-size:5.7px">Dip S</text>
<path d="M91 425.9 L91.5 423.2 L92.1 423.2 L92.6 423.2 L93.2 423.2 L93.8 423.2 L94.3 423.2 L94.9 423.2 L95.4 423.2 L96 423.2 L96.6 423.2 L97.1 420.7 L97.7 420.7 L98.3 420.7 L98.8 420.7 L99.4 420.7 L99.9 420.7 L100.5 420.7 L101.1 420.7 L101.6 418.3 L102.2 418.3 L102.7 418.3 L103.3 418.3 L103.9 418.3 L104.4 418.3 L105 418.3 L105.5 418.3 L106.1 418.3 L106.7 418.3 L107.2 418.3 L107.8 418.3 L108.4 418.3 L108.9 418.3 L109.5 418.3 L110 418.3 L110.6 418.3 L111.2 418.3 L111.7 418.3 L112.3 418.3 L112.8 418.3 L113.4 418.3 L114 420.4 L114.5 420.4 L115.1 420.4 L115.7 420.4 L116.2 420.4 L116.8 420.4 L117.3 420.4 L117.9 420.4 L118.5 420.4 L119 420.4 L119.6 420.4 L120.1 420.4 L120.7 420.4 L121.3 420.4 L121.8 420.4 L122.4 420.4 L123 420.4 L123.5 420.4 L124.1 420.4 L124.6 420.4 L125.2 420.4 L125.8 420.4 L126.3 423.4 L126.9 423.4 L127.4 423.4 L128 423.4 L128.6 423.4 L129.1 423.4 L129.7 423.4 L130.3 423.4 L130.8 423.4 L131.4 423.4 L131.9 423.4 L132.5 423.4 L133.1 423.4 L133.6 423.4 L134.2 423.4 L134.7 423.4 L135.3 423.4 L135.9 423.4 L136.4 423.4 L137 423.4 L137.6 423.4 L138.1 423.4 L138.7 423.4 L139.2 423.4 L139.8 423.4 L140.4 423.4 L140.9 423.4 L141.5 423.4 L142 423.4 L142.6 423.4 L143.2 423.4 L143.7 423.4 L144.3 423.4 L144.9 423.4 L145.4 423.4 L146 425.9 L146 425.9 L145.4 425.9 L144.9 425.9 L144.3 425.9 L143.7 425.9 L143.2 425.9 L142.6 425.9 L142 425.9 L141.5 425.9 L140.9 425.9 L140.4 425.9 L139.8 425.9 L139.2 425.9 L138.7 425.9 L138.1 425.9 L137.6 425.9 L137 425.9 L136.4 425.9 L135.9 425.9 L135.3 425.9 L134.7 425.9 L134.2 425.9 L133.6 425.9 L133.1 425.9 L132.5 425.9 L131.9 425.9 L131.4 425.9 L130.8 425.9 L130.3 425.9 L129.7 425.9 L129.1 425.9 L128.6 425.9 L128 425.9 L127.4 425.9 L126.9 425.9 L126.3 425.9 L125.8 425.9 L125.2 425.9 L124.6 425.9 L124.1 425.9 L123.5 425.9 L123 425.9 L122.4 425.9 L121.8 425.9 L121.3 425.9 L120.7 425.9 L120.1 425.9 L119.6 425.9 L119 425.9 L118.5 425.9 L117.9 425.9 L117.3 425.9 L116.8 425.9 L116.2 425.9 L115.7 425.9 L115.1 425.9 L114.5 425.9 L114 425.9 L113.4 425.9 L112.8 425.9 L112.3 425.9 L111.7 425.9 L111.2 425.9 L110.6 425.9 L110 425.9 L109.5 425.9 L108.9 425.9 L108.4 425.9 L107.8 425.9 L107.2 425.9 L106.7 425.9 L106.1 425.9 L105.5 425.9 L105 425.9 L104.4 425.9 L103.9 425.9 L103.3 425.9 L102.7 425.9 L102.2 425.9 L101.6 425.9 L101.1 425.9 L100.5 425.9 L99.9 425.9 L99.4 425.9 L98.8 425.9 L98.3 425.9 L97.7 425.9 L97.1 425.9 L96.6 425.9 L96 425.9 L95.4 425.9 L94.9 425.9 L94.3 425.9 L93.8 425.9 L93.2 425.9 L92.6 425.9 L92.1 425.9 L91.5 425.9 L91 425.9Z" fill="#b6dbb0" stroke="#4a7a4a" stroke-width="0.4"/>
<path d="M71.3 420.9 L71.9 415.6 L72.4 410 L73 404.1 L73.5 397 L74.1 389.1 L74.7 381.9 L75.2 376.8 L75.8 373.3 L76.4 370.4 L76.9 368.2 L77.5 367.2 L78 366.9 L78.6 366.7 L79.2 366.5 L79.7 366.3 L80.3 366.2 L80.8 366 L81.4 365.9 L82 365.9 L82.5 365.9 L83.1 365.8 L83.7 365.9 L84.2 365.9 L84.8 366 L85.3 366.1 L85.9 366.2 L86.5 366.3 L87 366.5 L87.6 366.7 L88.1 366.9 L88.7 367.2 L89.3 367.4 L89.8 367.8 L90.4 368.5 L91 370 L91.5 372.1 L92.1 374.6 L92.6 377.3 L93.2 380 L93.8 382.6 L94.3 384.9 L94.9 387 L95.4 389.1 L96 391.2 L96.6 393.2 L97.1 395.2 L97.7 397.3 L98.3 399.3 L98.8 401.3 L99.4 403.4 L99.9 405.4 L100.5 407.5 L101.1 409.5 L101.6 411.6 L102.2 413.6 L102.7 415.7 L103.3 417.9 L103.9 420 L104.4 421.8 L105 423.3 L105 425.9 L104.4 425.9 L103.9 425.9 L103.3 425.9 L102.7 425.9 L102.2 425.9 L101.6 425.9 L101.1 425.9 L100.5 425.9 L99.9 425.9 L99.4 425.9 L98.8 425.9 L98.3 425.9 L97.7 425.9 L97.1 425.9 L96.6 425.9 L96 425.9 L95.4 425.9 L94.9 425.9 L94.3 425.9 L93.8 425.9 L93.2 425.9 L92.6 425.9 L92.1 425.9 L91.5 425.9 L91 425.9 L90.4 425.9 L89.8 425.9 L89.3 425.9 L88.7 425.9 L88.1 425.9 L87.6 425.9 L87 425.9 L86.5 425.9 L85.9 425.9 L85.3 425.9 L84.8 425.9 L84.2 425.9 L83.7 425.9 L83.1 425.9 L82.5 425.9 L82 425.9 L81.4 425.9 L80.8 425.9 L80.3 425.9 L79.7 425.9 L79.2 425.9 L78.6 425.9 L78 425.9 L77.5 425.9 L76.9 425.9 L76.4 425.9 L75.8 425.9 L75.2 425.9 L74.7 425.9 L74.1 425.9 L73.5 425.9 L73 425.9 L72.4 425.9 L71.9 425.9 L71.3 425.9Z" fill="url(#hatch)" stroke="#666" stroke-width="0.5"/>
<path d="M91.5 423.2 L92.1 423.2 L92.6 423.2 L93.2 423.2 L93.8 423.2 L94.3 423.2 L94.9 423.2 L95.4 423.2 L96 423.2 L96.6 423.2 L97.1 420.7 L97.7 420.7 L98.3 420.7 L98.8 420.7 L99.4 420.7 L99.9 420.7 L100.5 420.7 L101.1 420.7 L101.6 418.3 L102.2 418.3 L102.7 418.3 L103.3 418.3 L103.9 420 L104.4 421.8 L105 423.3 L105.5 424.7 L105.5 425.9 L105 425.9 L104.4 425.9 L103.9 425.9 L103.3 425.9 L102.7 425.9 L102.2 425.9 L101.6 425.9 L101.1 425.9 L100.5 425.9 L99.9 425.9 L99.4 425.9 L98.8 425.9 L98.3 425.9 L97.7 425.9 L97.1 425.9 L96.6 425.9 L96 425.9 L95.4 425.9 L94.9 425.9 L94.3 425.9 L93.8 425.9 L93.2 425.9 L92.6 425.9 L92.1 425.9 L91.5 425.9Z" fill="#8fb08c" stroke="none"/>
<path d="M67.9 424.4 L68.5 422.8 L69.1 419.7 L69.6 414.5 L70.2 406.4 L70.7 395.2 L71.3 381.1 L71.9 365.4 L72.4 350.3 L73 338.3 L73.5 332 L74.1 332.7 L74.7 340.3 L75.2 353.1 L75.8 368.6 L76.4 384.1 L76.9 397.7 L77.5 408.3 L78 415.7 L78.6 420.5 L79.2 423.2 L79.2 425.9 L78.6 425.9 L78 425.9 L77.5 425.9 L76.9 425.9 L76.4 425.9 L75.8 425.9 L75.2 425.9 L74.7 425.9 L74.1 425.9 L73.5 425.9 L73 425.9 L72.4 425.9 L71.9 425.9 L71.3 425.9 L70.7 425.9 L70.2 425.9 L69.6 425.9 L69.1 425.9 L68.5 425.9 L67.9 425.9Z" fill="#ec1118" stroke="#3a0a0a" stroke-width="0.45"/>
<path d="M71.3 420.9 L71.9 415.6 L72.4 410 L73 404.1 L73.5 397 L74.1 389.1 L74.7 381.9 L75.2 376.8 L75.8 373.3 L76.4 384.1 L76.9 397.7 L77.5 408.3 L78 415.7 L78.6 420.5 L79.2 423.2 L79.2 425.9 L78.6 425.9 L78 425.9 L77.5 425.9 L76.9 425.9 L76.4 425.9 L75.8 425.9 L75.2 425.9 L74.7 425.9 L74.1 425.9 L73.5 425.9 L73 425.9 L72.4 425.9 L71.9 425.9 L71.3 425.9Z" fill="#cf1323" stroke="none"/>
<path d="M70.7 425.9 L71.3 420.9 L71.9 415.6 L72.4 410 L73 404.1 L73.5 397 L74.1 389.1 L74.7 381.9 L75.2 376.8 L75.8 373.3 L76.4 370.4" fill="none" stroke="#5a0a14" stroke-width="0.45"/>
<path d="M67.9 424.4 L68.5 422.8 L69.1 419.7 L69.6 414.5 L70.2 406.4 L70.7 395.2 L71.3 376.2 L71.9 355.2 L72.4 334.4 L73 316.5 L73.5 303.2 L74.1 296 L74.7 296.3 L75.2 304 L75.8 316 L76.4 328.6 L76.9 340 L77.5 349.6 L78 356.8 L78.6 361.2 L79.2 363.8 L79.7 365.1 L80.3 365.6 L80.8 365.8 L81.4 365.9 L82 365.9 L82.5 365.8 L83.1 365.8 L83.7 365.9 L84.2 365.9 L84.8 366 L85.3 366.1 L85.9 366.2 L86.5 366.3 L87 366.5 L87.6 366.7 L88.1 366.9 L88.7 367.2 L89.3 367.4 L89.8 367.8 L90.4 368.5 L91 370 L91.5 369.4 L92.1 371.8 L92.6 374.5 L93.2 377.3 L93.8 379.9 L94.3 382.2 L94.9 384.3 L95.4 386.4 L96 388.4 L96.6 390.5 L97.1 390 L97.7 392.1 L98.3 394.1 L98.8 396.1 L99.4 398.2 L99.9 400.2 L100.5 402.3 L101.1 404.3 L101.6 403.9 L102.2 406 L102.7 408.1 L103.3 410.3 L103.9 412.4 L104.4 414.2 L105 415.7 L105.5 417.1 L106.1 418.3 L106.7 418.3 L107.2 418.3 L107.8 418.3 L108.4 418.3 L108.9 418.3 L109.5 418.3 L110 418.3 L110.6 418.3 L111.2 418.3 L111.7 418.3 L112.3 418.3 L112.8 418.3 L113.4 418.3 L114 420.4 L114.5 420.4 L115.1 420.4 L115.7 420.4 L116.2 420.4 L116.8 420.4 L117.3 420.4 L117.9 420.4 L118.5 420.4 L119 420.4 L119.6 420.4 L120.1 420.4 L120.7 420.4 L121.3 420.4 L121.8 420.4 L122.4 420.4 L123 420.4 L123.5 420.4 L124.1 420.4 L124.6 420.4 L125.2 420.4 L125.8 420.4 L126.3 423.4 L126.9 423.4 L127.4 423.4 L128 423.4 L128.6 423.4 L129.1 423.4 L129.7 423.4 L130.3 423.4 L130.8 423.4 L131.4 423.4 L131.9 423.4 L132.5 423.4 L133.1 423.4 L133.6 423.4 L134.2 423.4 L134.7 423.4 L135.3 423.4 L135.9 423.4 L136.4 423.4 L137 423.4 L137.6 423.4 L138.1 423.4 L138.7 423.4 L139.2 423.4 L139.8 423.4 L140.4 423.4 L140.9 423.4 L141.5 423.4 L142 423.4 L142.6 423.4 L143.2 423.4 L143.7 423.4 L144.3 423.4 L144.9 423.4 L145.4 423.4" fill="none" stroke="#777" stroke-width="0.35"/>
<path d="M66.2 425.8 L66.6 425.1 L67 425 L67.4 425 L67.8 425.1 L68.2 424.6 L68.6 421 L69 420.1 L69.4 414.1 L69.8 419.7 L70.2 398.2 L70.6 399.3 L71 381.5 L71.4 375.7 L71.7 364.9 L72.1 336.6 L72.5 314 L72.9 316.7 L73.3 312.3 L73.7 283 L74.1 300.3 L74.5 337.6 L74.9 288.8 L75.3 322.3 L75.7 319.4 L76.1 340.3 L76.5 340.4 L76.9 361.3 L77.3 371.7 L77.6 351.2 L78 343.1 L78.4 363.3 L78.8 372.7 L79.2 358.6 L79.6 311.2 L80 369.4 L80.4 358.4 L80.8 351.9 L81.2 368.6 L81.6 376.7 L82 335.8 L82.4 362.5 L82.8 351.1 L83.1 344 L83.5 374.7 L83.9 377.1 L84.3 389.1 L84.7 364.3 L85.1 359 L85.5 375.9 L85.9 347.7 L86.3 355.4 L86.7 358.1 L87.1 361.2 L87.5 354 L87.9 384.4 L88.3 358.9 L88.6 359.2 L89 390.5 L89.4 363 L89.8 371 L90.2 358.2 L90.6 374.7 L91 370.2 L91.4 365.2 L91.8 381.5 L92.2 365.2 L92.6 375.5 L93 370.6 L93.4 383.8 L93.8 368.4 L94.2 375.3 L94.5 384.8 L94.9 378.4 L95.3 374.2 L95.7 371.2 L96.1 402.6 L96.5 382.8 L96.9 386.3 L97.3 391.4 L97.7 400.3 L98.1 383.6 L98.5 404.5 L98.9 392.2 L99.3 388.7 L99.7 409.9 L100 402.6 L100.4 410.1 L100.8 402.1 L101.2 395.6 L101.6 392.3 L102 415.1 L102.4 409.8 L102.8 404.9 L103.2 402.6 L103.6 409.5 L104 415.7 L104.4 412.9 L104.8 415.1 L105.2 416.8 L105.5 419.4 L105.9 416.8 L106.3 417.4 L106.7 418.5 L107.1 418.9 L107.5 422 L107.9 419.7 L108.3 414.8 L108.7 418.8 L109.1 422.4 L109.5 414.4 L109.9 416.7 L110.3 412.2 L110.7 418.1 L111.1 419.6 L111.4 422.4 L111.8 414.4 L112.2 410.8 L112.6 420.6 L113 420.1 L113.4 416.5 L113.8 421.9 L114.2 421.1 L114.6 421.3 L115 420 L115.4 417.8 L115.8 420.4 L116.2 418.2 L116.6 421.5 L116.9 419.6 L117.3 425.7 L117.7 424 L118.1 418.5 L118.5 421.9 L118.9 419 L119.3 419.1 L119.7 417.2 L120.1 418.4 L120.5 417.9 L120.9 420.7 L121.3 422.2 L121.7 422.2 L122.1 421.6 L122.5 423.2 L122.8 421.8 L123.2 420.7 L123.6 419.8 L124 421.3 L124.4 425.2 L124.8 420.6 L125.2 419.9 L125.6 417.8 L126 420.4 L126.4 424.6 L126.8 424.8 L127.2 419.7 L127.6 422 L128 420 L128.3 419.5 L128.7 425 L129.1 422.7 L129.5 422.6 L129.9 422.4 L130.3 422.4 L130.7 423.1 L131.1 423.1 L131.5 425.9 L131.9 423.8 L132.3 424.8 L132.7 423.2 L133.1 424.3 L133.5 422.3 L133.8 421.9 L134.2 422.9 L134.6 422.9 L135 423.3 L135.4 424.3 L135.8 423.7 L136.2 424.4 L136.6 422.7 L137 423.4 L137.4 422.4 L137.8 425.9 L138.2 421.8 L138.6 424.9 L139 424.8 L139.4 423.8 L139.7 424.5 L140.1 422.9 L140.5 424.5 L140.9 425.4 L141.3 425 L141.7 421 L142.1 423.4 L142.5 425.6 L142.9 423.4 L143.3 425.9 L143.7 420.1 L144.1 425.9 L144.5 422.6 L144.9 422.4 L145.2 425.9 L145.6 423.9 L146 425.5 L146.4 425.7 L146.8 425.8 L147.2 425.5 L147.6 425.8 L148 425.8 L148.4 425.8 L148.8 425.6 L149.2 425.5 L149.6 425.6 L150 425.7 L150.4 425.5 L150.8 425.8 L151.1 425.2 L151.5 425.5 L151.9 425.7 L152.3 425.6 L152.7 425.7 L153.1 425.8 L153.5 425.9 L153.9 425 L154.3 425.8 L154.7 425.5 L155.1 425.6 L155.5 425.3 L155.9 425.3 L156.3 425.5 L156.6 425.6 L157 425.2 L157.4 425.9 L157.8 425.5 L158.2 425.8 L158.6 425.1 L159 425.8 L159.4 425.7 L159.8 425.7 L160.2 425.8 L160.6 425.7 L161 425.5 L161.4 425.3 L161.8 425.8 L162.1 425.8 L162.5 425.8 L162.9 425.5 L163.3 425.2 L163.7 425.7 L164.1 425.6 L164.5 425.5" fill="none" stroke="#3a3a3a" stroke-width="0.45" stroke-linejoin="bevel"/>
<path d="M49.4 425.9 H184.2 M49.4 425.9 V289.4" stroke="#555" stroke-width="0.9" fill="none"/>
<path d="M49.4 425.9 v4.5 M55 425.9 v2.6 M60.6 425.9 v2.6 M66.2 425.9 v2.6 M71.9 425.9 v2.6 M77.5 425.9 v4.5 M83.1 425.9 v2.6 M88.7 425.9 v2.6 M94.3 425.9 v2.6 M99.9 425.9 v2.6 M105.5 425.9 v4.5 M111.2 425.9 v2.6 M116.8 425.9 v2.6 M122.4 425.9 v2.6 M128 425.9 v2.6 M133.6 425.9 v4.5 M139.2 425.9 v2.6 M144.9 425.9 v2.6 M150.5 425.9 v2.6 M156.1 425.9 v2.6 M161.7 425.9 v4.5 M167.3 425.9 v2.6 M172.9 425.9 v2.6 M178.5 425.9 v2.6 M184.2 425.9 v2.6 M49.4 425.9 h-4.5 M49.4 420.4 h-2.6 M49.4 415 h-2.6 M49.4 409.5 h-2.6 M49.4 404.1 h-2.6 M49.4 398.6 h-4.5 M49.4 393.1 h-2.6 M49.4 387.7 h-2.6 M49.4 382.2 h-2.6 M49.4 376.8 h-2.6 M49.4 371.3 h-4.5 M49.4 365.8 h-2.6 M49.4 360.4 h-2.6 M49.4 354.9 h-2.6 M49.4 349.5 h-2.6 M49.4 344 h-4.5 M49.4 338.5 h-2.6 M49.4 333.1 h-2.6 M49.4 327.6 h-2.6 M49.4 322.2 h-2.6 M49.4 316.7 h-4.5 M49.4 311.2 h-2.6 M49.4 305.8 h-2.6 M49.4 300.3 h-2.6 M49.4 294.9 h-2.6 M49.4 289.4 h-4.5" stroke="#555" stroke-width="0.8" fill="none"/>
<text x="49.4" y="439" text-anchor="middle" class="tk" style="font-size:8.5px">0</text>
<text x="77.5" y="439" text-anchor="middle" class="tk" style="font-size:8.5px">50</text>
<text x="105.5" y="439" text-anchor="middle" class="tk" style="font-size:8.5px">100</text>
<text x="133.6" y="439" text-anchor="middle" class="tk" style="font-size:8.5px">150</text>
<text x="161.7" y="439" text-anchor="middle" class="tk" style="font-size:8.5px">200</text>
<text transform="translate(44 425.9) rotate(-90)" text-anchor="middle" class="tk" style="font-size:8.5px">0</text>
<text transform="translate(44 398.6) rotate(-90)" text-anchor="middle" class="tk" style="font-size:8.5px">20</text>
<text transform="translate(44 371.3) rotate(-90)" text-anchor="middle" class="tk" style="font-size:8.5px">30</text>
<text transform="translate(44 344) rotate(-90)" text-anchor="middle" class="tk" style="font-size:8.5px">40</text>
<text transform="translate(44 316.7) rotate(-90)" text-anchor="middle" class="tk" style="font-size:8.5px">50</text>
<text transform="translate(44 289.4) rotate(-90)" text-anchor="middle" class="tk" style="font-size:8.5px">60</text>
<text x="116.8" y="447.4" text-anchor="middle" class="tk">B6-A</text>
<text transform="translate(30.8 351.8) rotate(-90)" text-anchor="middle" class="nm">Number</text>
<rect x="156.6" y="285.9" width="5.3" height="4.2" fill="#b4b6e2" stroke="#6a6a8a" stroke-width="0.5"/>
<text x="162.1" y="288.8" class="lg" style="font-size:5.4px">Debris</text>
<rect x="156.6" y="290.5" width="5.3" height="4.2" fill="#b6dbb0" stroke="#6a6a8a" stroke-width="0.5"/>
<text x="162.1" y="293.6" class="lg" style="font-size:5.4px">Aggregates</text>
<rect x="156.6" y="295.2" width="5.3" height="4.2" fill="#ec1118" stroke="#6a6a8a" stroke-width="0.5"/>
<text x="162.1" y="298.4" class="lg" style="font-size:5.4px">Dip G1</text>
<rect x="156.6" y="299.8" width="5.3" height="4.2" fill="#ec1118" stroke="#6a6a8a" stroke-width="0.5"/>
<text x="162.1" y="303.2" class="lg" style="font-size:5.4px">Dip G2</text>
<rect x="156.6" y="304.5" width="5.3" height="4.2" fill="url(#hatchL)" stroke="#6a6a8a" stroke-width="0.5"/>
<text x="162.1" y="308" class="lg" style="font-size:5.4px">Dip S</text>
<path d="M285.5 426.1 L286.1 423.9 L286.6 423.9 L287.2 423.9 L287.7 423.9 L288.3 423.9 L288.9 423.9 L289.4 423.9 L290 423.9 L290.5 423.9 L291.1 423.9 L291.6 423.9 L292.2 422 L292.8 422 L293.3 422 L293.9 422 L294.4 422 L295 422 L295.5 422 L296.1 422 L296.7 422 L297.2 422 L297.8 422 L298.3 422 L298.9 422 L299.5 422 L300 422 L300.6 422 L301.1 422 L301.7 422 L302.2 419.5 L302.8 419.5 L303.4 419.5 L303.9 419.5 L304.5 419.5 L305 419.5 L305.6 419.5 L306.1 419.5 L306.7 419.5 L307.3 419.5 L307.8 419.5 L308.4 419.5 L308.9 419.5 L309.5 419.5 L310.1 419.5 L310.6 419.5 L311.2 419.5 L311.7 419.5 L312.3 419.5 L312.8 419.5 L313.4 419.5 L314 419.5 L314.5 419.5 L315.1 419.5 L315.6 419.5 L316.2 419.5 L316.8 419.5 L317.3 419.5 L317.9 419.5 L318.4 419.5 L319 421.5 L319.5 421.5 L320.1 421.5 L320.7 421.5 L321.2 421.5 L321.8 421.5 L322.3 421.5 L322.9 421.5 L323.4 421.5 L324 421.5 L324.6 423.9 L325.1 423.9 L325.7 423.9 L326.2 423.9 L326.8 423.9 L327.4 423.9 L327.9 423.9 L328.5 423.9 L329 423.9 L329.6 423.9 L330.1 423.9 L330.7 423.9 L331.3 423.9 L331.8 423.9 L332.4 423.9 L332.9 423.9 L333.5 423.9 L334.1 423.9 L334.6 423.9 L335.2 423.9 L335.7 423.9 L336.3 423.9 L336.8 423.9 L337.4 423.9 L338 423.9 L338.5 423.9 L339.1 423.9 L339.6 423.9 L340.2 423.9 L340.7 423.9 L341.3 423.9 L341.9 423.9 L342.4 423.9 L343 423.9 L343.5 423.9 L344.1 423.9 L344.7 423.9 L345.2 423.9 L345.8 423.9 L346.3 423.9 L346.9 423.9 L347.4 423.9 L348 423.9 L348.6 423.9 L349.1 423.9 L349.7 423.9 L350.2 423.9 L350.8 423.9 L351.3 423.9 L351.9 423.9 L352.5 423.9 L353 423.9 L353.6 423.9 L354.1 423.9 L354.7 423.9 L355.3 423.9 L355.8 423.9 L356.4 423.9 L356.9 423.9 L357.5 423.9 L358 423.9 L358.6 423.9 L359.2 423.9 L359.7 423.9 L360.3 423.9 L360.8 423.9 L361.4 423.9 L362 423.9 L362.5 423.9 L363.1 423.9 L363.6 423.9 L364.2 423.9 L364.7 423.9 L365.3 423.9 L365.9 423.9 L366.4 423.9 L367 423.9 L367.5 423.9 L368.1 423.9 L368.6 423.9 L369.2 423.9 L369.8 423.9 L370.3 426.1 L370.3 426.1 L369.8 426.1 L369.2 426.1 L368.6 426.1 L368.1 426.1 L367.5 426.1 L367 426.1 L366.4 426.1 L365.9 426.1 L365.3 426.1 L364.7 426.1 L364.2 426.1 L363.6 426.1 L363.1 426.1 L362.5 426.1 L362 426.1 L361.4 426.1 L360.8 426.1 L360.3 426.1 L359.7 426.1 L359.2 426.1 L358.6 426.1 L358 426.1 L357.5 426.1 L356.9 426.1 L356.4 426.1 L355.8 426.1 L355.3 426.1 L354.7 426.1 L354.1 426.1 L353.6 426.1 L353 426.1 L352.5 426.1 L351.9 426.1 L351.3 426.1 L350.8 426.1 L350.2 426.1 L349.7 426.1 L349.1 426.1 L348.6 426.1 L348 426.1 L347.4 426.1 L346.9 426.1 L346.3 426.1 L345.8 426.1 L345.2 426.1 L344.7 426.1 L344.1 426.1 L343.5 426.1 L343 426.1 L342.4 426.1 L341.9 426.1 L341.3 426.1 L340.7 426.1 L340.2 426.1 L339.6 426.1 L339.1 426.1 L338.5 426.1 L338 426.1 L337.4 426.1 L336.8 426.1 L336.3 426.1 L335.7 426.1 L335.2 426.1 L334.6 426.1 L334.1 426.1 L333.5 426.1 L332.9 426.1 L332.4 426.1 L331.8 426.1 L331.3 426.1 L330.7 426.1 L330.1 426.1 L329.6 426.1 L329 426.1 L328.5 426.1 L327.9 426.1 L327.4 426.1 L326.8 426.1 L326.2 426.1 L325.7 426.1 L325.1 426.1 L324.6 426.1 L324 426.1 L323.4 426.1 L322.9 426.1 L322.3 426.1 L321.8 426.1 L321.2 426.1 L320.7 426.1 L320.1 426.1 L319.5 426.1 L319 426.1 L318.4 426.1 L317.9 426.1 L317.3 426.1 L316.8 426.1 L316.2 426.1 L315.6 426.1 L315.1 426.1 L314.5 426.1 L314 426.1 L313.4 426.1 L312.8 426.1 L312.3 426.1 L311.7 426.1 L311.2 426.1 L310.6 426.1 L310.1 426.1 L309.5 426.1 L308.9 426.1 L308.4 426.1 L307.8 426.1 L307.3 426.1 L306.7 426.1 L306.1 426.1 L305.6 426.1 L305 426.1 L304.5 426.1 L303.9 426.1 L303.4 426.1 L302.8 426.1 L302.2 426.1 L301.7 426.1 L301.1 426.1 L300.6 426.1 L300 426.1 L299.5 426.1 L298.9 426.1 L298.3 426.1 L297.8 426.1 L297.2 426.1 L296.7 426.1 L296.1 426.1 L295.5 426.1 L295 426.1 L294.4 426.1 L293.9 426.1 L293.3 426.1 L292.8 426.1 L292.2 426.1 L291.6 426.1 L291.1 426.1 L290.5 426.1 L290 426.1 L289.4 426.1 L288.9 426.1 L288.3 426.1 L287.7 426.1 L287.2 426.1 L286.6 426.1 L286.1 426.1 L285.5 426.1Z" fill="#b6dbb0" stroke="#4a7a4a" stroke-width="0.4"/>
<path d="M261 424.4 L261.5 423.4 L262.1 422.4 L262.6 421.3 L263.2 420.2 L263.7 419.1 L264.3 417.9 L264.9 416.7 L265.4 415.3 L266 413.9 L266.5 412.4 L267.1 410.9 L267.6 409.3 L268.2 407.7 L268.8 406.1 L269.3 404.5 L269.9 402.9 L270.4 401.2 L271 399.5 L271.6 397.7 L272.1 395.8 L272.7 394 L273.2 392.3 L273.8 390.7 L274.3 389.2 L274.9 387.9 L275.5 386.5 L276 385.2 L276.6 384.1 L277.1 383.1 L277.7 382.4 L278.2 381.9 L278.8 381.4 L279.4 381 L279.9 380.6 L280.5 380.4 L281 380.3 L281.6 380.3 L282.2 380.4 L282.7 380.6 L283.3 380.9 L283.8 381.3 L284.4 381.8 L284.9 382.3 L285.5 382.8 L286.1 383.3 L286.6 383.8 L287.2 384.3 L287.7 384.9 L288.3 385.5 L288.9 386.2 L289.4 386.9 L290 387.7 L290.5 388.4 L291.1 389.2 L291.6 389.9 L292.2 390.6 L292.8 391.3 L293.3 392 L293.9 392.7 L294.4 393.3 L295 394 L295.5 394.7 L296.1 395.4 L296.7 396.1 L297.2 396.8 L297.8 397.4 L298.3 398.1 L298.9 398.8 L299.5 399.5 L300 400.2 L300.6 400.8 L301.1 401.5 L301.7 402.2 L302.2 402.9 L302.8 403.6 L303.4 404.3 L303.9 404.9 L304.5 405.6 L305 406.3 L305.6 407 L306.1 407.7 L306.7 408.4 L307.3 409 L307.8 409.7 L308.4 410.4 L308.9 411.1 L309.5 411.8 L310.1 412.5 L310.6 413.2 L311.2 413.9 L311.7 414.5 L312.3 415.2 L312.8 415.9 L313.4 416.6 L314 417.3 L314.5 417.9 L315.1 418.6 L315.6 419.2 L316.2 419.8 L316.8 420.5 L317.3 421.1 L317.9 421.7 L318.4 422.3 L319 422.8 L319.5 423.3 L320.1 423.9 L320.7 424.3 L320.7 426.1 L320.1 426.1 L319.5 426.1 L319 426.1 L318.4 426.1 L317.9 426.1 L317.3 426.1 L316.8 426.1 L316.2 426.1 L315.6 426.1 L315.1 426.1 L314.5 426.1 L314 426.1 L313.4 426.1 L312.8 426.1 L312.3 426.1 L311.7 426.1 L311.2 426.1 L310.6 426.1 L310.1 426.1 L309.5 426.1 L308.9 426.1 L308.4 426.1 L307.8 426.1 L307.3 426.1 L306.7 426.1 L306.1 426.1 L305.6 426.1 L305 426.1 L304.5 426.1 L303.9 426.1 L303.4 426.1 L302.8 426.1 L302.2 426.1 L301.7 426.1 L301.1 426.1 L300.6 426.1 L300 426.1 L299.5 426.1 L298.9 426.1 L298.3 426.1 L297.8 426.1 L297.2 426.1 L296.7 426.1 L296.1 426.1 L295.5 426.1 L295 426.1 L294.4 426.1 L293.9 426.1 L293.3 426.1 L292.8 426.1 L292.2 426.1 L291.6 426.1 L291.1 426.1 L290.5 426.1 L290 426.1 L289.4 426.1 L288.9 426.1 L288.3 426.1 L287.7 426.1 L287.2 426.1 L286.6 426.1 L286.1 426.1 L285.5 426.1 L284.9 426.1 L284.4 426.1 L283.8 426.1 L283.3 426.1 L282.7 426.1 L282.2 426.1 L281.6 426.1 L281 426.1 L280.5 426.1 L279.9 426.1 L279.4 426.1 L278.8 426.1 L278.2 426.1 L277.7 426.1 L277.1 426.1 L276.6 426.1 L276 426.1 L275.5 426.1 L274.9 426.1 L274.3 426.1 L273.8 426.1 L273.2 426.1 L272.7 426.1 L272.1 426.1 L271.6 426.1 L271 426.1 L270.4 426.1 L269.9 426.1 L269.3 426.1 L268.8 426.1 L268.2 426.1 L267.6 426.1 L267.1 426.1 L266.5 426.1 L266 426.1 L265.4 426.1 L264.9 426.1 L264.3 426.1 L263.7 426.1 L263.2 426.1 L262.6 426.1 L262.1 426.1 L261.5 426.1 L261 426.1Z" fill="url(#hatch)" stroke="#666" stroke-width="0.5"/>
<path d="M286.1 423.9 L286.6 423.9 L287.2 423.9 L287.7 423.9 L288.3 423.9 L288.9 423.9 L289.4 423.9 L290 423.9 L290.5 423.9 L291.1 423.9 L291.6 423.9 L292.2 422 L292.8 422 L293.3 422 L293.9 422 L294.4 422 L295 422 L295.5 422 L296.1 422 L296.7 422 L297.2 422 L297.8 422 L298.3 422 L298.9 422 L299.5 422 L300 422 L300.6 422 L301.1 422 L301.7 422 L302.2 419.5 L302.8 419.5 L303.4 419.5 L303.9 419.5 L304.5 419.5 L305 419.5 L305.6 419.5 L306.1 419.5 L306.7 419.5 L307.3 419.5 L307.8 419.5 L308.4 419.5 L308.9 419.5 L309.5 419.5 L310.1 419.5 L310.6 419.5 L311.2 419.5 L311.7 419.5 L312.3 419.5 L312.8 419.5 L313.4 419.5 L314 419.5 L314.5 419.5 L315.1 419.5 L315.6 419.5 L316.2 419.8 L316.8 420.5 L317.3 421.1 L317.9 421.7 L318.4 422.3 L319 422.8 L319.5 423.3 L320.1 423.9 L320.7 424.3 L321.2 424.8 L321.8 425.3 L322.3 425.7 L322.3 426.1 L321.8 426.1 L321.2 426.1 L320.7 426.1 L320.1 426.1 L319.5 426.1 L319 426.1 L318.4 426.1 L317.9 426.1 L317.3 426.1 L316.8 426.1 L316.2 426.1 L315.6 426.1 L315.1 426.1 L314.5 426.1 L314 426.1 L313.4 426.1 L312.8 426.1 L312.3 426.1 L311.7 426.1 L311.2 426.1 L310.6 426.1 L310.1 426.1 L309.5 426.1 L308.9 426.1 L308.4 426.1 L307.8 426.1 L307.3 426.1 L306.7 426.1 L306.1 426.1 L305.6 426.1 L305 426.1 L304.5 426.1 L303.9 426.1 L303.4 426.1 L302.8 426.1 L302.2 426.1 L301.7 426.1 L301.1 426.1 L300.6 426.1 L300 426.1 L299.5 426.1 L298.9 426.1 L298.3 426.1 L297.8 426.1 L297.2 426.1 L296.7 426.1 L296.1 426.1 L295.5 426.1 L295 426.1 L294.4 426.1 L293.9 426.1 L293.3 426.1 L292.8 426.1 L292.2 426.1 L291.6 426.1 L291.1 426.1 L290.5 426.1 L290 426.1 L289.4 426.1 L288.9 426.1 L288.3 426.1 L287.7 426.1 L287.2 426.1 L286.6 426.1 L286.1 426.1Z" fill="#8fb08c" stroke="none"/>
<path d="M255.4 424.3 L255.9 423.7 L256.5 422.9 L257 421.9 L257.6 420.7 L258.2 419.2 L258.7 417.4 L259.3 415.2 L259.8 412.6 L260.4 409.7 L261 406.3 L261.5 402.6 L262.1 398.5 L262.6 394.1 L263.2 389.5 L263.7 384.7 L264.3 379.8 L264.9 375 L265.4 370.4 L266 366.1 L266.5 362.3 L267.1 359 L267.6 356.5 L268.2 354.8 L268.8 353.9 L269.3 353.9 L269.9 354.7 L270.4 356.3 L271 358.7 L271.6 361.7 L272.1 365.4 L272.7 369.4 L273.2 373.8 L273.8 378.5 L274.3 383.2 L274.9 387.9 L275.5 392.4 L276 396.8 L276.6 400.9 L277.1 404.6 L277.7 408.1 L278.2 411.1 L278.8 413.8 L279.4 416.1 L279.9 418.1 L280.5 419.7 L281 421.1 L281.6 422.2 L282.2 423.1 L282.7 423.8 L283.3 424.4 L283.3 426.1 L282.7 426.1 L282.2 426.1 L281.6 426.1 L281 426.1 L280.5 426.1 L279.9 426.1 L279.4 426.1 L278.8 426.1 L278.2 426.1 L277.7 426.1 L277.1 426.1 L276.6 426.1 L276 426.1 L275.5 426.1 L274.9 426.1 L274.3 426.1 L273.8 426.1 L273.2 426.1 L272.7 426.1 L272.1 426.1 L271.6 426.1 L271 426.1 L270.4 426.1 L269.9 426.1 L269.3 426.1 L268.8 426.1 L268.2 426.1 L267.6 426.1 L267.1 426.1 L266.5 426.1 L266 426.1 L265.4 426.1 L264.9 426.1 L264.3 426.1 L263.7 426.1 L263.2 426.1 L262.6 426.1 L262.1 426.1 L261.5 426.1 L261 426.1 L260.4 426.1 L259.8 426.1 L259.3 426.1 L258.7 426.1 L258.2 426.1 L257.6 426.1 L257 426.1 L256.5 426.1 L255.9 426.1 L255.4 426.1Z" fill="#ec1118" stroke="#3a0a0a" stroke-width="0.45"/>
<path d="M261 424.4 L261.5 423.4 L262.1 422.4 L262.6 421.3 L263.2 420.2 L263.7 419.1 L264.3 417.9 L264.9 416.7 L265.4 415.3 L266 413.9 L266.5 412.4 L267.1 410.9 L267.6 409.3 L268.2 407.7 L268.8 406.1 L269.3 404.5 L269.9 402.9 L270.4 401.2 L271 399.5 L271.6 397.7 L272.1 395.8 L272.7 394 L273.2 392.3 L273.8 390.7 L274.3 389.2 L274.9 387.9 L275.5 392.4 L276 396.8 L276.6 400.9 L277.1 404.6 L277.7 408.1 L278.2 411.1 L278.8 413.8 L279.4 416.1 L279.9 418.1 L280.5 419.7 L281 421.1 L281.6 422.2 L282.2 423.1 L282.7 423.8 L283.3 424.4 L283.3 426.1 L282.7 426.1 L282.2 426.1 L281.6 426.1 L281 426.1 L280.5 426.1 L279.9 426.1 L279.4 426.1 L278.8 426.1 L278.2 426.1 L277.7 426.1 L277.1 426.1 L276.6 426.1 L276 426.1 L275.5 426.1 L274.9 426.1 L274.3 426.1 L273.8 426.1 L273.2 426.1 L272.7 426.1 L272.1 426.1 L271.6 426.1 L271 426.1 L270.4 426.1 L269.9 426.1 L269.3 426.1 L268.8 426.1 L268.2 426.1 L267.6 426.1 L267.1 426.1 L266.5 426.1 L266 426.1 L265.4 426.1 L264.9 426.1 L264.3 426.1 L263.7 426.1 L263.2 426.1 L262.6 426.1 L262.1 426.1 L261.5 426.1 L261 426.1Z" fill="#cf1323" stroke="none"/>
<path d="M260.4 425.3 L261 424.4 L261.5 423.4 L262.1 422.4 L262.6 421.3 L263.2 420.2 L263.7 419.1 L264.3 417.9 L264.9 416.7 L265.4 415.3 L266 413.9 L266.5 412.4 L267.1 410.9 L267.6 409.3 L268.2 407.7 L268.8 406.1 L269.3 404.5 L269.9 402.9 L270.4 401.2 L271 399.5 L271.6 397.7 L272.1 395.8 L272.7 394 L273.2 392.3 L273.8 390.7 L274.3 389.2 L274.9 387.9 L275.5 386.5" fill="none" stroke="#5a0a14" stroke-width="0.45"/>
<path d="M254.3 425.2 L254.8 424.8 L255.4 424.3 L255.9 423.7 L256.5 422.9 L257 421.9 L257.6 420.7 L258.2 419.2 L258.7 417.4 L259.3 415.2 L259.8 412.6 L260.4 408.8 L261 404.6 L261.5 399.9 L262.1 394.8 L262.6 389.4 L263.2 383.6 L263.7 377.7 L264.3 371.6 L264.9 365.5 L265.4 359.6 L266 353.9 L266.5 348.6 L267.1 343.8 L267.6 339.7 L268.2 336.4 L268.8 333.9 L269.3 332.3 L269.9 331.5 L270.4 331.5 L271 332.1 L271.6 333.3 L272.1 335.1 L272.7 337.4 L273.2 340 L273.8 343 L274.3 346.3 L274.9 349.6 L275.5 352.8 L276 355.9 L276.6 358.8 L277.1 361.6 L277.7 364.4 L278.2 366.9 L278.8 369.1 L279.4 371 L279.9 372.6 L280.5 374 L281 375.3 L281.6 376.4 L282.2 377.4 L282.7 378.4 L283.3 379.2 L283.8 380.1 L284.4 380.9 L284.9 381.6 L285.5 382.3 L286.1 380.8 L286.6 381.4 L287.2 382 L287.7 382.6 L288.3 383.3 L288.9 384 L289.4 384.7 L290 385.5 L290.5 386.2 L291.1 387 L291.6 387.7 L292.2 386.5 L292.8 387.2 L293.3 387.9 L293.9 388.6 L294.4 389.2 L295 389.9 L295.5 390.6 L296.1 391.3 L296.7 392 L297.2 392.7 L297.8 393.3 L298.3 394 L298.9 394.7 L299.5 395.4 L300 396.1 L300.6 396.8 L301.1 397.4 L301.7 398.1 L302.2 396.3 L302.8 397 L303.4 397.7 L303.9 398.4 L304.5 399.1 L305 399.8 L305.6 400.4 L306.1 401.1 L306.7 401.8 L307.3 402.5 L307.8 403.2 L308.4 403.9 L308.9 404.5 L309.5 405.2 L310.1 405.9 L310.6 406.6 L311.2 407.3 L311.7 408 L312.3 408.7 L312.8 409.4 L313.4 410 L314 410.7 L314.5 411.4 L315.1 412 L315.6 412.7 L316.2 413.3 L316.8 413.9 L317.3 414.6 L317.9 415.2 L318.4 415.7 L319 418.2 L319.5 418.7 L320.1 419.2 L320.7 419.7 L321.2 420.2 L321.8 420.6 L322.3 421 L322.9 421.5 L323.4 421.5 L324 421.5 L324.6 423.9 L325.1 423.9 L325.7 423.9 L326.2 423.9 L326.8 423.9 L327.4 423.9 L327.9 423.9 L328.5 423.9 L329 423.9 L329.6 423.9 L330.1 423.9 L330.7 423.9 L331.3 423.9 L331.8 423.9 L332.4 423.9 L332.9 423.9 L333.5 423.9 L334.1 423.9 L334.6 423.9 L335.2 423.9 L335.7 423.9 L336.3 423.9 L336.8 423.9 L337.4 423.9 L338 423.9 L338.5 423.9 L339.1 423.9 L339.6 423.9 L340.2 423.9 L340.7 423.9 L341.3 423.9 L341.9 423.9 L342.4 423.9 L343 423.9 L343.5 423.9 L344.1 423.9 L344.7 423.9 L345.2 423.9 L345.8 423.9 L346.3 423.9 L346.9 423.9 L347.4 423.9 L348 423.9 L348.6 423.9 L349.1 423.9 L349.7 423.9 L350.2 423.9 L350.8 423.9 L351.3 423.9 L351.9 423.9 L352.5 423.9 L353 423.9 L353.6 423.9 L354.1 423.9 L354.7 423.9 L355.3 423.9 L355.8 423.9 L356.4 423.9 L356.9 423.9 L357.5 423.9 L358 423.9 L358.6 423.9 L359.2 423.9 L359.7 423.9 L360.3 423.9 L360.8 423.9 L361.4 423.9 L362 423.9 L362.5 423.9 L363.1 423.9 L363.6 423.9 L364.2 423.9 L364.7 423.9 L365.3 423.9 L365.9 423.9 L366.4 423.9 L367 423.9 L367.5 423.9 L368.1 423.9 L368.6 423.9 L369.2 423.9 L369.8 423.9" fill="none" stroke="#777" stroke-width="0.35"/>
<path d="M253.1 424.8 L253.5 424.1 L253.9 424.9 L254.3 425 L254.7 422.7 L255.1 423.9 L255.5 421 L255.9 423.7 L256.3 424.2 L256.7 421.4 L257 421 L257.4 421.9 L257.8 420.7 L258.2 417 L258.6 415.6 L259 417.9 L259.4 416 L259.8 420.1 L260.2 402.8 L260.6 408.7 L261 397 L261.3 398.7 L261.7 384.3 L262.1 382.4 L262.5 387.8 L262.9 372.7 L263.3 392 L263.7 364.5 L264.1 391.5 L264.5 365.4 L264.9 351.2 L265.2 336 L265.6 362.8 L266 366.2 L266.4 355.3 L266.8 328 L267.2 327 L267.6 308.7 L268 361.4 L268.4 322.5 L268.8 362.6 L269.2 343.4 L269.5 346.8 L269.9 322.4 L270.3 326.7 L270.7 322.4 L271.1 326.8 L271.5 346.7 L271.9 323.8 L272.3 308.3 L272.7 306 L273.1 327.4 L273.5 343.5 L273.8 325 L274.2 334 L274.6 333.1 L275 344.5 L275.4 326.1 L275.8 360.3 L276.2 361.9 L276.6 367.6 L277 352 L277.4 371.5 L277.7 373.4 L278.1 356.7 L278.5 352.9 L278.9 362.2 L279.3 404.1 L279.7 383.6 L280.1 385.9 L280.5 388.2 L280.9 379.6 L281.3 354.9 L281.7 379.9 L282 385.4 L282.4 370.2 L282.8 377.8 L283.2 377.9 L283.6 387.1 L284 380.3 L284.4 376.3 L284.8 401.1 L285.2 398.3 L285.6 371.1 L286 372.3 L286.3 386.3 L286.7 392 L287.1 383.8 L287.5 394.4 L287.9 386.2 L288.3 366.9 L288.7 382.5 L289.1 372.9 L289.5 386.9 L289.9 381.8 L290.2 372.8 L290.6 398.8 L291 390.1 L291.4 388.9 L291.8 384.8 L292.2 372.1 L292.6 380.7 L293 401.1 L293.4 390.4 L293.8 396.4 L294.2 397 L294.5 371.7 L294.9 399 L295.3 388 L295.7 396.1 L296.1 383 L296.5 387.4 L296.9 389.4 L297.3 391.2 L297.7 381.6 L298.1 398.1 L298.4 396.6 L298.8 399.6 L299.2 381.1 L299.6 393.5 L300 399.1 L300.4 394.7 L300.8 373.9 L301.2 392.8 L301.6 386.3 L302 387.9 L302.4 390.3 L302.7 395.4 L303.1 393 L303.5 393.4 L303.9 406.4 L304.3 373.8 L304.7 385.5 L305.1 391.3 L305.5 393.7 L305.9 397.8 L306.3 387 L306.7 394.6 L307 390.8 L307.4 402.5 L307.8 392.2 L308.2 383.1 L308.6 396.9 L309 391 L309.4 395.7 L309.8 390.2 L310.2 390.9 L310.6 396.7 L310.9 400.3 L311.3 396.4 L311.7 398 L312.1 401.6 L312.5 396.8 L312.9 397.3 L313.3 403.9 L313.7 400.7 L314.1 387.6 L314.5 397.4 L314.9 400.9 L315.2 391.3 L315.6 403.9 L316 412.3 L316.4 410.3 L316.8 409 L317.2 402.7 L317.6 400.5 L318 412.1 L318.4 400.9 L318.8 410.2 L319.2 406.7 L319.5 406.5 L319.9 406.9 L320.3 408.5 L320.7 408.4 L321.1 412.1 L321.5 408.8 L321.9 407.4 L322.3 407.9 L322.7 404.3 L323.1 408.1 L323.4 408.9 L323.8 406.7 L324.2 411 L324.6 415.3 L325 417 L325.4 410.7 L325.8 412 L326.2 411.5 L326.6 413.6 L327 412.4 L327.4 409.6 L327.7 412.4 L328.1 415 L328.5 413.8 L328.9 410.5 L329.3 415 L329.7 417.6 L330.1 417.1 L330.5 415.4 L330.9 411.6 L331.3 412.8 L331.7 414.4 L332 415.3 L332.4 413.2 L332.8 413.3 L333.2 414 L333.6 413.4 L334 414.4 L334.4 409.7 L334.8 417.3 L335.2 412.8 L335.6 414.8 L335.9 411.8 L336.3 413.5 L336.7 412.4 L337.1 412.1 L337.5 412.8 L337.9 411.4 L338.3 415.7 L338.7 411.5 L339.1 413.7 L339.5 412.7 L339.9 410.6 L340.2 411.4 L340.6 410 L341 417.7 L341.4 415.4 L341.8 412 L342.2 415.9 L342.6 414.3 L343 410.9 L343.4 412.5 L343.8 416 L344.1 413.5 L344.5 413.3 L344.9 414.4 L345.3 414.9 L345.7 414.6 L346.1 417.7 L346.5 414.9 L346.9 417 L347.3 414.7 L347.7 414.8 L348.1 417.4 L348.4 415 L348.8 416.1 L349.2 417.7 L349.6 417.3 L350 420.3 L350.4 421.5 L350.8 422.1" fill="none" stroke="#3a3a3a" stroke-width="0.45" stroke-linejoin="bevel"/>
<path d="M236.4 426.1 H370.3 M236.4 426.1 V289.6" stroke="#555" stroke-width="0.9" fill="none"/>
<path d="M236.4 426.1 v4.5 M242 426.1 v2.6 M247.6 426.1 v2.6 M253.1 426.1 v2.6 M258.7 426.1 v2.6 M264.3 426.1 v4.5 M269.9 426.1 v2.6 M275.5 426.1 v2.6 M281 426.1 v2.6 M286.6 426.1 v2.6 M292.2 426.1 v4.5 M297.8 426.1 v2.6 M303.4 426.1 v2.6 M308.9 426.1 v2.6 M314.5 426.1 v2.6 M320.1 426.1 v4.5 M325.7 426.1 v2.6 M331.3 426.1 v2.6 M336.8 426.1 v2.6 M342.4 426.1 v2.6 M348 426.1 v4.5 M353.6 426.1 v2.6 M359.2 426.1 v2.6 M364.7 426.1 v2.6 M370.3 426.1 v2.6 M236.4 426.1 h-4.5 M236.4 420.6 h-2.6 M236.4 415.2 h-2.6 M236.4 409.7 h-2.6 M236.4 404.3 h-2.6 M236.4 398.8 h-4.5 M236.4 393.3 h-2.6 M236.4 387.9 h-2.6 M236.4 382.4 h-2.6 M236.4 377 h-2.6 M236.4 371.5 h-4.5 M236.4 366 h-2.6 M236.4 360.6 h-2.6 M236.4 355.1 h-2.6 M236.4 349.7 h-2.6 M236.4 344.2 h-4.5 M236.4 338.7 h-2.6 M236.4 333.3 h-2.6 M236.4 327.8 h-2.6 M236.4 322.4 h-2.6 M236.4 316.9 h-4.5 M236.4 311.4 h-2.6 M236.4 306 h-2.6 M236.4 300.5 h-2.6 M236.4 295.1 h-2.6 M236.4 289.6 h-4.5" stroke="#555" stroke-width="0.8" fill="none"/>
<text x="236.4" y="439" text-anchor="middle" class="tk" style="font-size:8.5px">0</text>
<text x="264.3" y="439" text-anchor="middle" class="tk" style="font-size:8.5px">50</text>
<text x="292.2" y="439" text-anchor="middle" class="tk" style="font-size:8.5px">100</text>
<text x="320.1" y="439" text-anchor="middle" class="tk" style="font-size:8.5px">150</text>
<text x="348" y="439" text-anchor="middle" class="tk" style="font-size:8.5px">200</text>
<text transform="translate(231 426.1) rotate(-90)" text-anchor="middle" class="tk" style="font-size:8.5px">0</text>
<text transform="translate(231 398.8) rotate(-90)" text-anchor="middle" class="tk" style="font-size:8.5px">20</text>
<text transform="translate(231 371.5) rotate(-90)" text-anchor="middle" class="tk" style="font-size:8.5px">30</text>
<text transform="translate(231 344.2) rotate(-90)" text-anchor="middle" class="tk" style="font-size:8.5px">40</text>
<text transform="translate(231 316.9) rotate(-90)" text-anchor="middle" class="tk" style="font-size:8.5px">50</text>
<text transform="translate(231 289.6) rotate(-90)" text-anchor="middle" class="tk" style="font-size:8.5px">60</text>
<text x="303.4" y="447.4" text-anchor="middle" class="tk">B6-A</text>
<text transform="translate(217.8 351.8) rotate(-90)" text-anchor="middle" class="nm">Number</text>
<rect x="343.3" y="285.9" width="5.3" height="4.2" fill="#b4b6e2" stroke="#6a6a8a" stroke-width="0.5"/>
<text x="348.8" y="288.8" class="lg" style="font-size:5.4px">Debris</text>
<rect x="343.3" y="290.5" width="5.3" height="4.2" fill="#b6dbb0" stroke="#6a6a8a" stroke-width="0.5"/>
<text x="348.8" y="293.6" class="lg" style="font-size:5.4px">Aggregates</text>
<rect x="343.3" y="295.2" width="5.3" height="4.2" fill="#ec1118" stroke="#6a6a8a" stroke-width="0.5"/>
<text x="348.8" y="298.4" class="lg" style="font-size:5.4px">Dip G1</text>
<rect x="343.3" y="299.8" width="5.3" height="4.2" fill="#ec1118" stroke="#6a6a8a" stroke-width="0.5"/>
<text x="348.8" y="303.2" class="lg" style="font-size:5.4px">Dip G2</text>
<rect x="343.3" y="304.5" width="5.3" height="4.2" fill="url(#hatchL)" stroke="#6a6a8a" stroke-width="0.5"/>
<text x="348.8" y="308" class="lg" style="font-size:5.4px">Dip S</text>
<path d="M486.9 426.3 L487.5 423.6 L488.1 423.6 L488.6 423.6 L489.2 423.6 L489.7 423.6 L490.3 423.6 L490.9 423.6 L491.4 423.6 L492 423.6 L492.5 423.6 L493.1 423.6 L493.7 423.6 L494.2 423.6 L494.8 423.6 L495.3 420.3 L495.9 420.3 L496.4 420.3 L497 420.3 L497.6 420.3 L498.1 420.3 L498.7 420.3 L499.2 420.3 L499.8 420.3 L500.4 420.3 L500.9 420.3 L501.5 420.3 L502 420.3 L502.6 420.3 L503.1 420.3 L503.7 420.3 L504.3 420.3 L504.8 420.3 L505.4 420.3 L505.9 420.3 L506.5 420.3 L507.1 420.3 L507.6 420.3 L508.2 420.3 L508.7 420.3 L509.3 420.3 L509.8 420.3 L510.4 420.3 L511 420.3 L511.5 420.3 L512.1 420.3 L512.6 420.3 L513.2 420.3 L513.8 420.3 L514.3 420.3 L514.9 420.3 L515.4 420.3 L516 420.3 L516.5 422.2 L517.1 422.2 L517.7 422.2 L518.2 422.2 L518.8 422.2 L519.3 422.2 L519.9 422.2 L520.5 422.2 L521 422.2 L521.6 422.2 L522.1 422.2 L522.7 422.2 L523.3 422.2 L523.8 422.2 L524.4 422.2 L524.9 422.2 L525.5 422.2 L526 422.2 L526.6 422.2 L527.2 422.2 L527.7 422.2 L528.3 422.2 L528.8 422.2 L529.4 422.2 L530 422.2 L530.5 422.2 L531.1 422.2 L531.6 422.2 L532.2 422.2 L532.7 424.1 L533.3 424.1 L533.9 424.1 L534.4 424.1 L535 424.1 L535.5 424.1 L536.1 424.1 L536.7 424.1 L537.2 424.1 L537.8 424.1 L538.3 424.1 L538.9 424.1 L539.4 424.1 L540 424.1 L540.6 424.1 L541.1 424.1 L541.7 424.1 L542.2 424.1 L542.8 424.1 L543.4 424.1 L543.9 424.1 L544.5 424.1 L545 424.1 L545.6 424.1 L546.1 424.1 L546.7 424.1 L547.3 424.1 L547.8 424.1 L548.4 424.1 L548.9 424.1 L549.5 424.1 L550.1 424.1 L550.6 424.1 L551.2 424.1 L551.7 424.1 L552.3 424.1 L552.9 424.1 L553.4 424.1 L554 424.1 L554.5 424.1 L555.1 424.1 L555.6 424.1 L556.2 424.1 L556.8 424.1 L557.3 424.1 L557.9 424.1 L558.4 424.1 L559 424.1 L559.6 424.1 L560.1 424.1 L560.7 424.1 L561.2 424.1 L561.8 424.1 L562.3 424.1 L562.9 424.1 L563.5 424.1 L564 424.1 L564.6 424.1 L565.1 426.3 L565.1 426.3 L564.6 426.3 L564 426.3 L563.5 426.3 L562.9 426.3 L562.3 426.3 L561.8 426.3 L561.2 426.3 L560.7 426.3 L560.1 426.3 L559.6 426.3 L559 426.3 L558.4 426.3 L557.9 426.3 L557.3 426.3 L556.8 426.3 L556.2 426.3 L555.6 426.3 L555.1 426.3 L554.5 426.3 L554 426.3 L553.4 426.3 L552.9 426.3 L552.3 426.3 L551.7 426.3 L551.2 426.3 L550.6 426.3 L550.1 426.3 L549.5 426.3 L548.9 426.3 L548.4 426.3 L547.8 426.3 L547.3 426.3 L546.7 426.3 L546.1 426.3 L545.6 426.3 L545 426.3 L544.5 426.3 L543.9 426.3 L543.4 426.3 L542.8 426.3 L542.2 426.3 L541.7 426.3 L541.1 426.3 L540.6 426.3 L540 426.3 L539.4 426.3 L538.9 426.3 L538.3 426.3 L537.8 426.3 L537.2 426.3 L536.7 426.3 L536.1 426.3 L535.5 426.3 L535 426.3 L534.4 426.3 L533.9 426.3 L533.3 426.3 L532.7 426.3 L532.2 426.3 L531.6 426.3 L531.1 426.3 L530.5 426.3 L530 426.3 L529.4 426.3 L528.8 426.3 L528.3 426.3 L527.7 426.3 L527.2 426.3 L526.6 426.3 L526 426.3 L525.5 426.3 L524.9 426.3 L524.4 426.3 L523.8 426.3 L523.3 426.3 L522.7 426.3 L522.1 426.3 L521.6 426.3 L521 426.3 L520.5 426.3 L519.9 426.3 L519.3 426.3 L518.8 426.3 L518.2 426.3 L517.7 426.3 L517.1 426.3 L516.5 426.3 L516 426.3 L515.4 426.3 L514.9 426.3 L514.3 426.3 L513.8 426.3 L513.2 426.3 L512.6 426.3 L512.1 426.3 L511.5 426.3 L511 426.3 L510.4 426.3 L509.8 426.3 L509.3 426.3 L508.7 426.3 L508.2 426.3 L507.6 426.3 L507.1 426.3 L506.5 426.3 L505.9 426.3 L505.4 426.3 L504.8 426.3 L504.3 426.3 L503.7 426.3 L503.1 426.3 L502.6 426.3 L502 426.3 L501.5 426.3 L500.9 426.3 L500.4 426.3 L499.8 426.3 L499.2 426.3 L498.7 426.3 L498.1 426.3 L497.6 426.3 L497 426.3 L496.4 426.3 L495.9 426.3 L495.3 426.3 L494.8 426.3 L494.2 426.3 L493.7 426.3 L493.1 426.3 L492.5 426.3 L492 426.3 L491.4 426.3 L490.9 426.3 L490.3 426.3 L489.7 426.3 L489.2 426.3 L488.6 426.3 L488.1 426.3 L487.5 426.3 L486.9 426.3Z" fill="#b6dbb0" stroke="#4a7a4a" stroke-width="0.4"/>
<path d="M461.8 424.2 L462.4 423.5 L462.9 422.7 L463.5 421.8 L464 420.9 L464.6 420 L465.2 419.1 L465.7 418.1 L466.3 417.1 L466.8 416 L467.4 414.9 L468 413.7 L468.5 412.5 L469.1 411.2 L469.6 409.9 L470.2 408.5 L470.8 407.2 L471.3 405.8 L471.9 404.4 L472.4 402.8 L473 401.2 L473.5 399.6 L474.1 398 L474.7 396.4 L475.2 394.9 L475.8 393.5 L476.3 392.2 L476.9 390.7 L477.5 389.2 L478 387.8 L478.6 386.8 L479.1 386.1 L479.7 385.9 L480.2 386 L480.8 386.2 L481.4 386.5 L481.9 386.8 L482.5 387.2 L483 387.7 L483.6 388.1 L484.2 388.6 L484.7 389 L485.3 389.4 L485.8 389.8 L486.4 390.2 L486.9 390.6 L487.5 391 L488.1 391.4 L488.6 391.9 L489.2 392.3 L489.7 392.7 L490.3 393.2 L490.9 393.7 L491.4 394.1 L492 394.7 L492.5 395.2 L493.1 395.8 L493.7 396.4 L494.2 397 L494.8 397.8 L495.3 398.6 L495.9 399.4 L496.4 400.3 L497 401.2 L497.6 402 L498.1 402.9 L498.7 403.7 L499.2 404.5 L499.8 405.2 L500.4 405.9 L500.9 406.6 L501.5 407.3 L502 408 L502.6 408.6 L503.1 409.3 L503.7 410 L504.3 410.6 L504.8 411.3 L505.4 411.9 L505.9 412.6 L506.5 413.2 L507.1 413.8 L507.6 414.4 L508.2 415 L508.7 415.7 L509.3 416.3 L509.8 417 L510.4 417.7 L511 418.5 L511.5 419.3 L512.1 420.2 L512.6 421.1 L513.2 422 L513.8 422.8 L514.3 423.6 L514.9 424.3 L514.9 426.3 L514.3 426.3 L513.8 426.3 L513.2 426.3 L512.6 426.3 L512.1 426.3 L511.5 426.3 L511 426.3 L510.4 426.3 L509.8 426.3 L509.3 426.3 L508.7 426.3 L508.2 426.3 L507.6 426.3 L507.1 426.3 L506.5 426.3 L505.9 426.3 L505.4 426.3 L504.8 426.3 L504.3 426.3 L503.7 426.3 L503.1 426.3 L502.6 426.3 L502 426.3 L501.5 426.3 L500.9 426.3 L500.4 426.3 L499.8 426.3 L499.2 426.3 L498.7 426.3 L498.1 426.3 L497.6 426.3 L497 426.3 L496.4 426.3 L495.9 426.3 L495.3 426.3 L494.8 426.3 L494.2 426.3 L493.7 426.3 L493.1 426.3 L492.5 426.3 L492 426.3 L491.4 426.3 L490.9 426.3 L490.3 426.3 L489.7 426.3 L489.2 426.3 L488.6 426.3 L488.1 426.3 L487.5 426.3 L486.9 426.3 L486.4 426.3 L485.8 426.3 L485.3 426.3 L484.7 426.3 L484.2 426.3 L483.6 426.3 L483 426.3 L482.5 426.3 L481.9 426.3 L481.4 426.3 L480.8 426.3 L480.2 426.3 L479.7 426.3 L479.1 426.3 L478.6 426.3 L478 426.3 L477.5 426.3 L476.9 426.3 L476.3 426.3 L475.8 426.3 L475.2 426.3 L474.7 426.3 L474.1 426.3 L473.5 426.3 L473 426.3 L472.4 426.3 L471.9 426.3 L471.3 426.3 L470.8 426.3 L470.2 426.3 L469.6 426.3 L469.1 426.3 L468.5 426.3 L468 426.3 L467.4 426.3 L466.8 426.3 L466.3 426.3 L465.7 426.3 L465.2 426.3 L464.6 426.3 L464 426.3 L463.5 426.3 L462.9 426.3 L462.4 426.3 L461.8 426.3Z" fill="url(#hatch)" stroke="#666" stroke-width="0.5"/>
<path d="M487.5 423.6 L488.1 423.6 L488.6 423.6 L489.2 423.6 L489.7 423.6 L490.3 423.6 L490.9 423.6 L491.4 423.6 L492 423.6 L492.5 423.6 L493.1 423.6 L493.7 423.6 L494.2 423.6 L494.8 423.6 L495.3 420.3 L495.9 420.3 L496.4 420.3 L497 420.3 L497.6 420.3 L498.1 420.3 L498.7 420.3 L499.2 420.3 L499.8 420.3 L500.4 420.3 L500.9 420.3 L501.5 420.3 L502 420.3 L502.6 420.3 L503.1 420.3 L503.7 420.3 L504.3 420.3 L504.8 420.3 L505.4 420.3 L505.9 420.3 L506.5 420.3 L507.1 420.3 L507.6 420.3 L508.2 420.3 L508.7 420.3 L509.3 420.3 L509.8 420.3 L510.4 420.3 L511 420.3 L511.5 420.3 L512.1 420.3 L512.6 421.1 L513.2 422 L513.8 422.8 L514.3 423.6 L514.9 424.3 L515.4 425 L516 425.7 L516 426.3 L515.4 426.3 L514.9 426.3 L514.3 426.3 L513.8 426.3 L513.2 426.3 L512.6 426.3 L512.1 426.3 L511.5 426.3 L511 426.3 L510.4 426.3 L509.8 426.3 L509.3 426.3 L508.7 426.3 L508.2 426.3 L507.6 426.3 L507.1 426.3 L506.5 426.3 L505.9 426.3 L505.4 426.3 L504.8 426.3 L504.3 426.3 L503.7 426.3 L503.1 426.3 L502.6 426.3 L502 426.3 L501.5 426.3 L500.9 426.3 L500.4 426.3 L499.8 426.3 L499.2 426.3 L498.7 426.3 L498.1 426.3 L497.6 426.3 L497 426.3 L496.4 426.3 L495.9 426.3 L495.3 426.3 L494.8 426.3 L494.2 426.3 L493.7 426.3 L493.1 426.3 L492.5 426.3 L492 426.3 L491.4 426.3 L490.9 426.3 L490.3 426.3 L489.7 426.3 L489.2 426.3 L488.6 426.3 L488.1 426.3 L487.5 426.3Z" fill="#8fb08c" stroke="none"/>
<path d="M455.7 424.6 L456.2 424.1 L456.8 423.5 L457.3 422.7 L457.9 421.7 L458.5 420.5 L459 419.1 L459.6 417.4 L460.1 415.4 L460.7 413.1 L461.3 410.5 L461.8 407.5 L462.4 404.2 L462.9 400.6 L463.5 396.7 L464 392.6 L464.6 388.3 L465.2 383.8 L465.7 379.3 L466.3 374.8 L466.8 370.5 L467.4 366.4 L468 362.6 L468.5 359.3 L469.1 356.4 L469.6 354.2 L470.2 352.7 L470.8 351.9 L471.3 351.8 L471.9 352.4 L472.4 353.7 L473 355.6 L473.5 358 L474.1 361 L474.7 364.4 L475.2 368.2 L475.8 372.2 L476.3 376.4 L476.9 380.7 L477.5 385 L478 389.2 L478.6 393.3 L479.1 397.2 L479.7 400.9 L480.2 404.3 L480.8 407.4 L481.4 410.2 L481.9 412.8 L482.5 415 L483 417 L483.6 418.6 L484.2 420.1 L484.7 421.3 L485.3 422.3 L485.8 423.1 L486.4 423.8 L486.9 424.4 L487.5 424.8 L487.5 426.3 L486.9 426.3 L486.4 426.3 L485.8 426.3 L485.3 426.3 L484.7 426.3 L484.2 426.3 L483.6 426.3 L483 426.3 L482.5 426.3 L481.9 426.3 L481.4 426.3 L480.8 426.3 L480.2 426.3 L479.7 426.3 L479.1 426.3 L478.6 426.3 L478 426.3 L477.5 426.3 L476.9 426.3 L476.3 426.3 L475.8 426.3 L475.2 426.3 L474.7 426.3 L474.1 426.3 L473.5 426.3 L473 426.3 L472.4 426.3 L471.9 426.3 L471.3 426.3 L470.8 426.3 L470.2 426.3 L469.6 426.3 L469.1 426.3 L468.5 426.3 L468 426.3 L467.4 426.3 L466.8 426.3 L466.3 426.3 L465.7 426.3 L465.2 426.3 L464.6 426.3 L464 426.3 L463.5 426.3 L462.9 426.3 L462.4 426.3 L461.8 426.3 L461.3 426.3 L460.7 426.3 L460.1 426.3 L459.6 426.3 L459 426.3 L458.5 426.3 L457.9 426.3 L457.3 426.3 L456.8 426.3 L456.2 426.3 L455.7 426.3Z" fill="#ec1118" stroke="#3a0a0a" stroke-width="0.45"/>
<path d="M461.8 424.2 L462.4 423.5 L462.9 422.7 L463.5 421.8 L464 420.9 L464.6 420 L465.2 419.1 L465.7 418.1 L466.3 417.1 L466.8 416 L467.4 414.9 L468 413.7 L468.5 412.5 L469.1 411.2 L469.6 409.9 L470.2 408.5 L470.8 407.2 L471.3 405.8 L471.9 404.4 L472.4 402.8 L473 401.2 L473.5 399.6 L474.1 398 L474.7 396.4 L475.2 394.9 L475.8 393.5 L476.3 392.2 L476.9 390.7 L477.5 389.2 L478 389.2 L478.6 393.3 L479.1 397.2 L479.7 400.9 L480.2 404.3 L480.8 407.4 L481.4 410.2 L481.9 412.8 L482.5 415 L483 417 L483.6 418.6 L484.2 420.1 L484.7 421.3 L485.3 422.3 L485.8 423.1 L486.4 423.8 L486.9 424.4 L487.5 424.8 L487.5 426.3 L486.9 426.3 L486.4 426.3 L485.8 426.3 L485.3 426.3 L484.7 426.3 L484.2 426.3 L483.6 426.3 L483 426.3 L482.5 426.3 L481.9 426.3 L481.4 426.3 L480.8 426.3 L480.2 426.3 L479.7 426.3 L479.1 426.3 L478.6 426.3 L478 426.3 L477.5 426.3 L476.9 426.3 L476.3 426.3 L475.8 426.3 L475.2 426.3 L474.7 426.3 L474.1 426.3 L473.5 426.3 L473 426.3 L472.4 426.3 L471.9 426.3 L471.3 426.3 L470.8 426.3 L470.2 426.3 L469.6 426.3 L469.1 426.3 L468.5 426.3 L468 426.3 L467.4 426.3 L466.8 426.3 L466.3 426.3 L465.7 426.3 L465.2 426.3 L464.6 426.3 L464 426.3 L463.5 426.3 L462.9 426.3 L462.4 426.3 L461.8 426.3Z" fill="#cf1323" stroke="none"/>
<path d="M461.3 425 L461.8 424.2 L462.4 423.5 L462.9 422.7 L463.5 421.8 L464 420.9 L464.6 420 L465.2 419.1 L465.7 418.1 L466.3 417.1 L466.8 416 L467.4 414.9 L468 413.7 L468.5 412.5 L469.1 411.2 L469.6 409.9 L470.2 408.5 L470.8 407.2 L471.3 405.8 L471.9 404.4 L472.4 402.8 L473 401.2 L473.5 399.6 L474.1 398 L474.7 396.4 L475.2 394.9 L475.8 393.5 L476.3 392.2 L476.9 390.7 L477.5 389.2 L478 387.8 L478.6 386.8" fill="none" stroke="#5a0a14" stroke-width="0.45"/>
<path d="M454 425.6 L454.6 425.4 L455.1 425.1 L455.7 424.6 L456.2 424.1 L456.8 423.5 L457.3 422.7 L457.9 421.7 L458.5 420.5 L459 419.1 L459.6 417.4 L460.1 415.4 L460.7 412.4 L461.3 409.1 L461.8 405.5 L462.4 401.4 L462.9 397 L463.5 392.3 L464 387.2 L464.6 382 L465.2 376.6 L465.7 371.1 L466.3 365.6 L466.8 360.2 L467.4 354.9 L468 350 L468.5 345.4 L469.1 341.3 L469.6 337.8 L470.2 335 L470.8 332.8 L471.3 331.4 L471.9 330.5 L472.4 330.2 L473 330.5 L473.5 331.3 L474.1 332.7 L474.7 334.5 L475.2 336.8 L475.8 339.4 L476.3 342.2 L476.9 345 L477.5 347.8 L478 350.7 L478.6 353.8 L479.1 357 L479.7 360.5 L480.2 364 L480.8 367.3 L481.4 370.4 L481.9 373.3 L482.5 375.9 L483 378.3 L483.6 380.5 L484.2 382.4 L484.7 384 L485.3 385.4 L485.8 386.7 L486.4 387.8 L486.9 388.7 L487.5 386.8 L488.1 387.6 L488.6 388.3 L489.2 388.9 L489.7 389.5 L490.3 390.1 L490.9 390.7 L491.4 391.2 L492 391.8 L492.5 392.4 L493.1 393 L493.7 393.6 L494.2 394.3 L494.8 395 L495.3 392.6 L495.9 393.4 L496.4 394.3 L497 395.2 L497.6 396 L498.1 396.9 L498.7 397.7 L499.2 398.5 L499.8 399.2 L500.4 399.9 L500.9 400.6 L501.5 401.3 L502 402 L502.6 402.6 L503.1 403.3 L503.7 404 L504.3 404.6 L504.8 405.3 L505.4 405.9 L505.9 406.6 L506.5 407.2 L507.1 407.8 L507.6 408.4 L508.2 409 L508.7 409.6 L509.3 410.3 L509.8 411 L510.4 411.7 L511 412.5 L511.5 413.3 L512.1 414.2 L512.6 415.1 L513.2 415.9 L513.8 416.8 L514.3 417.6 L514.9 418.3 L515.4 419 L516 419.7 L516.5 422.2 L517.1 422.2 L517.7 422.2 L518.2 422.2 L518.8 422.2 L519.3 422.2 L519.9 422.2 L520.5 422.2 L521 422.2 L521.6 422.2 L522.1 422.2 L522.7 422.2 L523.3 422.2 L523.8 422.2 L524.4 422.2 L524.9 422.2 L525.5 422.2 L526 422.2 L526.6 422.2 L527.2 422.2 L527.7 422.2 L528.3 422.2 L528.8 422.2 L529.4 422.2 L530 422.2 L530.5 422.2 L531.1 422.2 L531.6 422.2 L532.2 422.2 L532.7 424.1 L533.3 424.1 L533.9 424.1 L534.4 424.1 L535 424.1 L535.5 424.1 L536.1 424.1 L536.7 424.1 L537.2 424.1 L537.8 424.1 L538.3 424.1 L538.9 424.1 L539.4 424.1 L540 424.1 L540.6 424.1 L541.1 424.1 L541.7 424.1 L542.2 424.1 L542.8 424.1 L543.4 424.1 L543.9 424.1 L544.5 424.1 L545 424.1 L545.6 424.1 L546.1 424.1 L546.7 424.1 L547.3 424.1 L547.8 424.1 L548.4 424.1 L548.9 424.1 L549.5 424.1 L550.1 424.1 L550.6 424.1 L551.2 424.1 L551.7 424.1 L552.3 424.1 L552.9 424.1 L553.4 424.1 L554 424.1 L554.5 424.1 L555.1 424.1 L555.6 424.1 L556.2 424.1 L556.8 424.1 L557.3 424.1 L557.9 424.1 L558.4 424.1 L559 424.1 L559.6 424.1 L560.1 424.1 L560.7 424.1 L561.2 424.1 L561.8 424.1 L562.3 424.1 L562.9 424.1 L563.5 424.1 L564 424.1 L564.6 424.1" fill="none" stroke="#777" stroke-width="0.35"/>
<path d="M454.6 423.7 L454.9 424.6 L455.3 425.8 L455.7 426.3 L456.1 426.3 L456.5 423.8 L456.9 424.9 L457.3 424.6 L457.7 422.6 L458.1 421.5 L458.5 426.3 L458.9 417 L459.2 424.4 L459.6 411.2 L460 413.7 L460.4 415.7 L460.8 406.1 L461.2 409.4 L461.6 403.3 L462 403.6 L462.4 394.4 L462.8 390.9 L463.2 402 L463.5 396.8 L463.9 385.2 L464.3 386.7 L464.7 404.8 L465.1 354.4 L465.5 399.3 L465.9 396 L466.3 382.8 L466.7 353.7 L467.1 331.1 L467.5 358.1 L467.8 357.4 L468.2 344.7 L468.6 351.1 L469 340.2 L469.4 360.6 L469.8 328.5 L470.2 327.3 L470.6 382 L471 334.4 L471.4 327.9 L471.8 319.2 L472.1 347.2 L472.5 357.6 L472.9 350 L473.3 319.8 L473.7 349 L474.1 322.6 L474.5 311.3 L474.9 350.8 L475.3 295.3 L475.7 340.6 L476.1 337.2 L476.4 324 L476.8 360.3 L477.2 373.8 L477.6 350.8 L478 340.1 L478.4 376.6 L478.8 362.7 L479.2 352.7 L479.6 356.4 L480 361 L480.4 368.2 L480.7 377.5 L481.1 381 L481.5 357 L481.9 386.7 L482.3 360.9 L482.7 391.7 L483.1 346.8 L483.5 398.5 L483.9 364.8 L484.3 391.7 L484.7 385 L485 385.5 L485.4 392 L485.8 366 L486.2 386.6 L486.6 400 L487 382.7 L487.4 380.6 L487.8 397.7 L488.2 382.9 L488.6 387.6 L489 381.4 L489.3 382.8 L489.7 389.6 L490.1 393.5 L490.5 382.5 L490.9 388.1 L491.3 403.6 L491.7 396.1 L492.1 395.9 L492.5 394.5 L492.9 374.3 L493.3 396.2 L493.6 389.8 L494 381.1 L494.4 390.7 L494.8 391.5 L495.2 382.7 L495.6 391.4 L496 392.1 L496.4 388.8 L496.8 391.5 L497.2 400.2 L497.6 404.1 L498 396.6 L498.3 386.1 L498.7 398.2 L499.1 388.9 L499.5 394.4 L499.9 399.6 L500.3 415.4 L500.7 396.7 L501.1 400.2 L501.5 408.9 L501.9 395.8 L502.3 399.5 L502.6 397.4 L503 403.6 L503.4 399.1 L503.8 403.4 L504.2 394.9 L504.6 400.6 L505 409.5 L505.4 400.9 L505.8 402.1 L506.2 403.9 L506.6 410.2 L506.9 398.2 L507.3 407.7 L507.7 396.6 L508.1 408 L508.5 405.1 L508.9 406 L509.3 405.5 L509.7 394.9 L510.1 409.4 L510.5 398.9 L510.9 405.6 L511.2 411.6 L511.6 404.5 L512 406.8 L512.4 407.1 L512.8 416 L513.2 410.1 L513.6 413.8 L514 413.5 L514.4 413.9 L514.8 413.9 L515.2 409.9 L515.5 414 L515.9 420.5 L516.3 414.1 L516.7 417.9 L517.1 417.8 L517.5 422.1 L517.9 417.2 L518.3 419.2 L518.7 416 L519.1 417.1 L519.5 416.3 L519.8 418.9 L520.2 422.1 L520.6 416 L521 417.2 L521.4 418.8 L521.8 419.3 L522.2 420 L522.6 422 L523 420.7 L523.4 418.3 L523.8 414.6 L524.1 417.1 L524.5 414.6 L524.9 420.3 L525.3 415.4 L525.7 419 L526.1 414.9 L526.5 415.4 L526.9 418 L527.3 417.8 L527.7 415.5 L528.1 419.8 L528.4 422.8 L528.8 416.3 L529.2 413.4 L529.6 422.3 L530 417.7 L530.4 420.7 L530.8 418.7 L531.2 420.3 L531.6 416.2 L532 419.3 L532.4 419.1 L532.7 422 L533.1 418.7 L533.5 420.9 L533.9 420.7 L534.3 420.2 L534.7 422.6 L535.1 420.1 L535.5 422.9 L535.9 420.4 L536.3 420.4 L536.7 420.8 L537 420.4 L537.4 421.3 L537.8 419.1 L538.2 420.1 L538.6 420.9 L539 420.5 L539.4 421.3 L539.8 420.4 L540.2 420.7 L540.6 423.4 L541 417.2 L541.3 421 L541.7 421.5 L542.1 419.8 L542.5 424.1 L542.9 421.1 L543.3 419.9 L543.7 420.9 L544.1 420.4 L544.5 421.4 L544.9 421.3 L545.3 420.7 L545.6 420.4 L546 422.7 L546.4 420.3 L546.8 420.4 L547.2 422.1 L547.6 422.1 L548 420.9 L548.4 419.1 L548.8 419.3 L549.2 422.8 L549.6 422.4 L549.9 422.6 L550.3 421.1 L550.7 422.3 L551.1 421.8 L551.5 420.5 L551.9 422.8 L552.3 422.9" fill="none" stroke="#3a3a3a" stroke-width="0.45" stroke-linejoin="bevel"/>
<path d="M437.8 426.3 H571.8 M437.8 426.3 V289.8" stroke="#555" stroke-width="0.9" fill="none"/>
<path d="M437.8 426.3 v4.5 M443.4 426.3 v2.6 M449 426.3 v2.6 M454.6 426.3 v2.6 M460.1 426.3 v2.6 M465.7 426.3 v4.5 M471.3 426.3 v2.6 M476.9 426.3 v2.6 M482.5 426.3 v2.6 M488.1 426.3 v2.6 M493.7 426.3 v4.5 M499.2 426.3 v2.6 M504.8 426.3 v2.6 M510.4 426.3 v2.6 M516 426.3 v2.6 M521.6 426.3 v4.5 M527.2 426.3 v2.6 M532.7 426.3 v2.6 M538.3 426.3 v2.6 M543.9 426.3 v2.6 M549.5 426.3 v4.5 M555.1 426.3 v2.6 M560.7 426.3 v2.6 M566.3 426.3 v2.6 M571.8 426.3 v2.6 M437.8 426.3 h-4.5 M437.8 420.8 h-2.6 M437.8 415.4 h-2.6 M437.8 409.9 h-2.6 M437.8 404.5 h-2.6 M437.8 399 h-4.5 M437.8 393.5 h-2.6 M437.8 388.1 h-2.6 M437.8 382.6 h-2.6 M437.8 377.2 h-2.6 M437.8 371.7 h-4.5 M437.8 366.2 h-2.6 M437.8 360.8 h-2.6 M437.8 355.3 h-2.6 M437.8 349.9 h-2.6 M437.8 344.4 h-4.5 M437.8 338.9 h-2.6 M437.8 333.5 h-2.6 M437.8 328 h-2.6 M437.8 322.6 h-2.6 M437.8 317.1 h-4.5 M437.8 311.6 h-2.6 M437.8 306.2 h-2.6 M437.8 300.7 h-2.6 M437.8 295.3 h-2.6 M437.8 289.8 h-4.5" stroke="#555" stroke-width="0.8" fill="none"/>
<text x="437.8" y="439" text-anchor="middle" class="tk" style="font-size:8.5px">0</text>
<text x="465.7" y="439" text-anchor="middle" class="tk" style="font-size:8.5px">50</text>
<text x="493.7" y="439" text-anchor="middle" class="tk" style="font-size:8.5px">100</text>
<text x="521.6" y="439" text-anchor="middle" class="tk" style="font-size:8.5px">150</text>
<text x="549.5" y="439" text-anchor="middle" class="tk" style="font-size:8.5px">200</text>
<text transform="translate(432.4 426.3) rotate(-90)" text-anchor="middle" class="tk" style="font-size:8.5px">0</text>
<text transform="translate(432.4 399) rotate(-90)" text-anchor="middle" class="tk" style="font-size:8.5px">20</text>
<text transform="translate(432.4 371.7) rotate(-90)" text-anchor="middle" class="tk" style="font-size:8.5px">30</text>
<text transform="translate(432.4 344.4) rotate(-90)" text-anchor="middle" class="tk" style="font-size:8.5px">40</text>
<text transform="translate(432.4 317.1) rotate(-90)" text-anchor="middle" class="tk" style="font-size:8.5px">50</text>
<text transform="translate(432.4 289.8) rotate(-90)" text-anchor="middle" class="tk" style="font-size:8.5px">60</text>
<text x="504.8" y="447.4" text-anchor="middle" class="tk">B6-A</text>
<text transform="translate(419.2 351.8) rotate(-90)" text-anchor="middle" class="nm">Number</text>
<rect x="545.1" y="285.9" width="5.3" height="4.2" fill="#b4b6e2" stroke="#6a6a8a" stroke-width="0.5"/>
<text x="550.6" y="288.8" class="lg" style="font-size:5.4px">Debris</text>
<rect x="545.1" y="290.5" width="5.3" height="4.2" fill="#b6dbb0" stroke="#6a6a8a" stroke-width="0.5"/>
<text x="550.6" y="293.6" class="lg" style="font-size:5.4px">Aggregates</text>
<rect x="545.1" y="295.2" width="5.3" height="4.2" fill="#ec1118" stroke="#6a6a8a" stroke-width="0.5"/>
<text x="550.6" y="298.4" class="lg" style="font-size:5.4px">Dip G1</text>
<rect x="545.1" y="299.8" width="5.3" height="4.2" fill="#ec1118" stroke="#6a6a8a" stroke-width="0.5"/>
<text x="550.6" y="303.2" class="lg" style="font-size:5.4px">Dip G2</text>
<rect x="545.1" y="304.5" width="5.3" height="4.2" fill="url(#hatchL)" stroke="#6a6a8a" stroke-width="0.5"/>
<text x="550.6" y="308" class="lg" style="font-size:5.4px">Dip S</text>
<path d="M677.9 183 V30.5 M677.9 182.5 H798.5" stroke="#333" stroke-width="1.1" fill="none"/>
<text x="672" y="186.5" text-anchor="end" class="bt">0</text>
<text x="672" y="148.5" text-anchor="end" class="bt">20</text>
<text x="672" y="110.5" text-anchor="end" class="bt">40</text>
<text x="672" y="72.5" text-anchor="end" class="bt">60</text>
<text x="672" y="34.5" text-anchor="end" class="bt">80</text>
<path d="M677.9 182.5 h-4.3 M677.9 144.5 h-4.3 M677.9 106.5 h-4.3 M677.9 68.5 h-4.3 M677.9 30.5 h-4.3 M701.8 182.5 v3.8 M737.6 182.5 v3.8 M773.6 182.5 v3.8" stroke="#333" stroke-width="1.1" fill="none"/>
<path d="M701.9 47.2 V44.9 M696.1 44.9 H707.7" stroke="#333" stroke-width="1.1" fill="none"/>
<rect x="690.2" y="47.2" width="23.4" height="135.3" fill="#d2d3d2" stroke="#3a3a3a" stroke-width="1.2"/>
<path d="M737.7 56.3 V53.3 M731.9 53.3 H743.5" stroke="#333" stroke-width="1.1" fill="none"/>
<rect x="726" y="56.3" width="23.4" height="126.2" fill="#cf3a42" stroke="#3a3a3a" stroke-width="1.2"/>
<path d="M773.7 64.3 V61.8 M767.9 61.8 H779.5" stroke="#333" stroke-width="1.1" fill="none"/>
<rect x="762" y="64.3" width="23.4" height="118.2" fill="#3d8bc0" stroke="#3a3a3a" stroke-width="1.2"/>
<path d="M677.9 428.7 V276.2 M677.9 428.2 H798.5" stroke="#333" stroke-width="1.1" fill="none"/>
<text x="672" y="432.2" text-anchor="end" class="bt">0</text>
<text x="672" y="394.2" text-anchor="end" class="bt">20</text>
<text x="672" y="356.2" text-anchor="end" class="bt">40</text>
<text x="672" y="318.2" text-anchor="end" class="bt">60</text>
<text x="672" y="280.2" text-anchor="end" class="bt">80</text>
<path d="M677.9 428.2 h-4.3 M677.9 390.2 h-4.3 M677.9 352.2 h-4.3 M677.9 314.2 h-4.3 M677.9 276.2 h-4.3 M701.8 428.2 v3.8 M737.6 428.2 v3.8 M773.6 428.2 v3.8" stroke="#333" stroke-width="1.1" fill="none"/>
<path d="M701.9 288.4 V284.8 M696.1 284.8 H707.7" stroke="#333" stroke-width="1.1" fill="none"/>
<rect x="690.2" y="288.4" width="23.4" height="139.8" fill="#d2d3d2" stroke="#3a3a3a" stroke-width="1.2"/>
<path d="M737.7 309.6 V307.2 M731.9 307.2 H743.5" stroke="#333" stroke-width="1.1" fill="none"/>
<rect x="726" y="309.6" width="23.4" height="118.6" fill="#cf3a42" stroke="#3a3a3a" stroke-width="1.2"/>
<path d="M773.7 321.8 V316.7 M767.9 316.7 H779.5" stroke="#333" stroke-width="1.1" fill="none"/>
<rect x="762" y="321.8" width="23.4" height="106.4" fill="#3d8bc0" stroke="#3a3a3a" stroke-width="1.2"/>
<text class="pl" style="font-size:22.4px" stroke="#000" stroke-width="0.5" transform="translate(0.5 20.6) scale(1.08 1)">A</text>
<text class="pl" transform="translate(610.2 20.7) scale(0.96 1)">B</text>
<text class="pl" transform="translate(0.2 275.2) scale(0.96 1)">C</text>
<text class="pl" transform="translate(610.2 265.7) scale(0.96 1)">D</text>
<text x="306.5" y="20.6" text-anchor="middle" class="ti">HCCLM3</text>
<text x="753" y="21.0" text-anchor="middle" class="ti">HCCLM3</text>
<text x="310.8" y="266.9" text-anchor="middle" class="ti">Huh7</text>
<text x="728.8" y="266.9" text-anchor="middle" class="ti">Huh7</text>
<text x="104.1" y="224.0" text-anchor="middle" class="cl" style="font-size:16.1px">Control</text>
<text x="316.8" y="223.4" text-anchor="middle" class="cl">0.5 μM NVS-ZP7-4</text>
<text x="516.1" y="224.4" text-anchor="middle" class="cl" style="word-spacing:1px">1.0 μM NVS-ZP7-4</text>
<text x="103.9" y="464.8" text-anchor="middle" class="cl">Control</text>
<text x="310" y="464.3" text-anchor="middle" class="cl">0.5 μM NVS-ZP7-4</text>
<text x="510.2" y="464.3" text-anchor="middle" class="cl" style="word-spacing:1.2px">1.0 μM NVS-ZP7-4</text>
<text transform="translate(653.3 106.4) rotate(-90)" text-anchor="middle" class="yl">Percentage of G2 and S</text>
<text transform="translate(653.3 352.2) rotate(-90)" text-anchor="middle" class="yl">Percentage of G2 and S</text>
<text transform="translate(706.6 196.2) rotate(-45)" text-anchor="end" class="bl">Control</text>
<text transform="translate(742.4 196.2) rotate(-45)" text-anchor="end" class="bl">0.5 μM</text>
<text transform="translate(778.4 196.2) rotate(-45)" text-anchor="end" class="bl">1.0 μM</text>
<text transform="translate(706.6 441.7) rotate(-45)" text-anchor="end" class="bl">Control</text>
<text transform="translate(742.4 441.7) rotate(-45)" text-anchor="end" class="bl">0.5 μM</text>
<text transform="translate(778.4 441.7) rotate(-45)" text-anchor="end" class="bl">1.0 μM</text>
<text x="738.5" y="54.2" text-anchor="middle" class="st">**</text>
<text x="774.1" y="62.5" text-anchor="middle" class="st">***</text>
<text x="738.5" y="307.9" text-anchor="middle" class="st">***</text>
<text x="775.8" y="315.9" text-anchor="middle" class="st">***</text>
</svg>
</body></html>
